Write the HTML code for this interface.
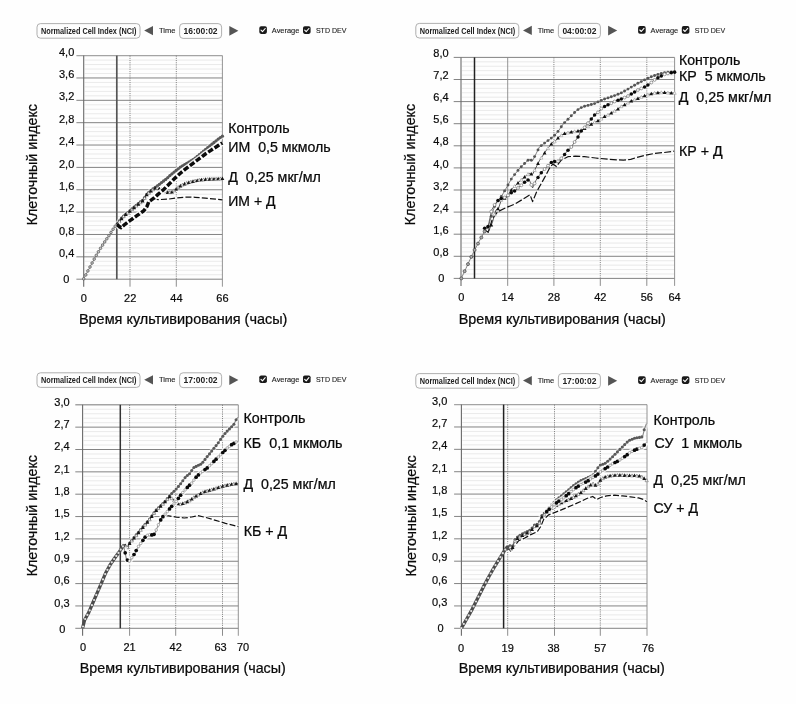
<!DOCTYPE html>
<html><head><meta charset="utf-8"><title>Cell index charts</title>
<style>html,body{margin:0;padding:0;background:#fefefe;}body{width:796px;height:704px;overflow:hidden;}svg{display:block;will-change:transform;filter:grayscale(1) blur(0.3px);font-family:'Liberation Sans', sans-serif;}</style>
</head><body>
<svg width="796" height="704" viewBox="0 0 796 704">
<rect width="796" height="704" fill="#fefefe"/>
<!-- chart1 -->
<g transform="translate(0,0)">
<rect x="37" y="23.6" width="103" height="14.6" rx="3.5" fill="#fdfdfd" stroke="#a6a6a6" stroke-width="0.9"/>
<text x="88.7" y="33.9" font-size="8.5" font-weight="bold" text-anchor="middle" textLength="95.5" lengthAdjust="spacingAndGlyphs" fill="#222">Normalized Cell Index (NCI)</text>
<path d="M144.2 30.6 L153 26 L153 35.2 Z" fill="#555"/>
<text x="158.9" y="33.2" font-size="7.8" textLength="16.6" lengthAdjust="spacingAndGlyphs" fill="#222" stroke="#222" stroke-width="0.12">Time</text>
<rect x="179.6" y="23.6" width="42" height="14.8" rx="3.5" fill="#fdfdfd" stroke="#a6a6a6" stroke-width="0.9"/>
<text x="200.6" y="34" font-size="8.4" font-weight="bold" text-anchor="middle" textLength="34" lengthAdjust="spacingAndGlyphs" fill="#222">16:00:02</text>
<path d="M238.4 30.8 L229.3 26 L229.3 35.7 Z" fill="#555"/>
<rect x="259.3" y="26.3" width="7.6" height="7.6" rx="1.8" fill="#1a1a1a"/>
<path d="M261.0 30.2 L262.5 31.700000000000003 L265.2 28.5" fill="none" stroke="#fff" stroke-width="1.1" stroke-linecap="round" stroke-linejoin="round"/>
<rect x="303.0" y="26.3" width="7.6" height="7.6" rx="1.8" fill="#1a1a1a"/>
<path d="M304.7 30.2 L306.2 31.700000000000003 L308.9 28.5" fill="none" stroke="#fff" stroke-width="1.1" stroke-linecap="round" stroke-linejoin="round"/>
<text x="271.8" y="33.2" font-size="7.8" textLength="27.6" lengthAdjust="spacingAndGlyphs" fill="#222" stroke="#222" stroke-width="0.12">Average</text>
<text x="315.9" y="33.2" font-size="7.6" textLength="30.5" lengthAdjust="spacingAndGlyphs" fill="#222" stroke="#222" stroke-width="0.12">STD DEV</text>
</g>
<line x1="84.70" y1="60.07" x2="222.40" y2="60.07" stroke="#e3e3e3" stroke-width="0.75"/>
<line x1="84.70" y1="64.54" x2="222.40" y2="64.54" stroke="#e3e3e3" stroke-width="0.75"/>
<line x1="84.70" y1="69.02" x2="222.40" y2="69.02" stroke="#e3e3e3" stroke-width="0.75"/>
<line x1="84.70" y1="73.49" x2="222.40" y2="73.49" stroke="#e3e3e3" stroke-width="0.75"/>
<line x1="84.70" y1="82.43" x2="222.40" y2="82.43" stroke="#e3e3e3" stroke-width="0.75"/>
<line x1="84.70" y1="86.90" x2="222.40" y2="86.90" stroke="#e3e3e3" stroke-width="0.75"/>
<line x1="84.70" y1="91.38" x2="222.40" y2="91.38" stroke="#e3e3e3" stroke-width="0.75"/>
<line x1="84.70" y1="95.85" x2="222.40" y2="95.85" stroke="#e3e3e3" stroke-width="0.75"/>
<line x1="84.70" y1="104.79" x2="222.40" y2="104.79" stroke="#e3e3e3" stroke-width="0.75"/>
<line x1="84.70" y1="109.26" x2="222.40" y2="109.26" stroke="#e3e3e3" stroke-width="0.75"/>
<line x1="84.70" y1="113.74" x2="222.40" y2="113.74" stroke="#e3e3e3" stroke-width="0.75"/>
<line x1="84.70" y1="118.21" x2="222.40" y2="118.21" stroke="#e3e3e3" stroke-width="0.75"/>
<line x1="84.70" y1="127.15" x2="222.40" y2="127.15" stroke="#e3e3e3" stroke-width="0.75"/>
<line x1="84.70" y1="131.62" x2="222.40" y2="131.62" stroke="#e3e3e3" stroke-width="0.75"/>
<line x1="84.70" y1="136.10" x2="222.40" y2="136.10" stroke="#e3e3e3" stroke-width="0.75"/>
<line x1="84.70" y1="140.57" x2="222.40" y2="140.57" stroke="#e3e3e3" stroke-width="0.75"/>
<line x1="84.70" y1="149.51" x2="222.40" y2="149.51" stroke="#e3e3e3" stroke-width="0.75"/>
<line x1="84.70" y1="153.98" x2="222.40" y2="153.98" stroke="#e3e3e3" stroke-width="0.75"/>
<line x1="84.70" y1="158.46" x2="222.40" y2="158.46" stroke="#e3e3e3" stroke-width="0.75"/>
<line x1="84.70" y1="162.93" x2="222.40" y2="162.93" stroke="#e3e3e3" stroke-width="0.75"/>
<line x1="84.70" y1="171.87" x2="222.40" y2="171.87" stroke="#e3e3e3" stroke-width="0.75"/>
<line x1="84.70" y1="176.34" x2="222.40" y2="176.34" stroke="#e3e3e3" stroke-width="0.75"/>
<line x1="84.70" y1="180.82" x2="222.40" y2="180.82" stroke="#e3e3e3" stroke-width="0.75"/>
<line x1="84.70" y1="185.29" x2="222.40" y2="185.29" stroke="#e3e3e3" stroke-width="0.75"/>
<line x1="84.70" y1="194.23" x2="222.40" y2="194.23" stroke="#e3e3e3" stroke-width="0.75"/>
<line x1="84.70" y1="198.70" x2="222.40" y2="198.70" stroke="#e3e3e3" stroke-width="0.75"/>
<line x1="84.70" y1="203.18" x2="222.40" y2="203.18" stroke="#e3e3e3" stroke-width="0.75"/>
<line x1="84.70" y1="207.65" x2="222.40" y2="207.65" stroke="#e3e3e3" stroke-width="0.75"/>
<line x1="84.70" y1="216.59" x2="222.40" y2="216.59" stroke="#e3e3e3" stroke-width="0.75"/>
<line x1="84.70" y1="221.06" x2="222.40" y2="221.06" stroke="#e3e3e3" stroke-width="0.75"/>
<line x1="84.70" y1="225.54" x2="222.40" y2="225.54" stroke="#e3e3e3" stroke-width="0.75"/>
<line x1="84.70" y1="230.01" x2="222.40" y2="230.01" stroke="#e3e3e3" stroke-width="0.75"/>
<line x1="84.70" y1="238.95" x2="222.40" y2="238.95" stroke="#e3e3e3" stroke-width="0.75"/>
<line x1="84.70" y1="243.42" x2="222.40" y2="243.42" stroke="#e3e3e3" stroke-width="0.75"/>
<line x1="84.70" y1="247.90" x2="222.40" y2="247.90" stroke="#e3e3e3" stroke-width="0.75"/>
<line x1="84.70" y1="252.37" x2="222.40" y2="252.37" stroke="#e3e3e3" stroke-width="0.75"/>
<line x1="84.70" y1="261.31" x2="222.40" y2="261.31" stroke="#e3e3e3" stroke-width="0.75"/>
<line x1="84.70" y1="265.78" x2="222.40" y2="265.78" stroke="#e3e3e3" stroke-width="0.75"/>
<line x1="84.70" y1="270.26" x2="222.40" y2="270.26" stroke="#e3e3e3" stroke-width="0.75"/>
<line x1="84.70" y1="274.73" x2="222.40" y2="274.73" stroke="#e3e3e3" stroke-width="0.75"/>
<line x1="76.40" y1="55.60" x2="222.40" y2="55.60" stroke="#a4a4a4" stroke-width="1.4"/>
<line x1="76.40" y1="77.96" x2="222.40" y2="77.96" stroke="#7c7c7c" stroke-width="0.95"/>
<line x1="76.40" y1="100.32" x2="222.40" y2="100.32" stroke="#7c7c7c" stroke-width="0.95"/>
<line x1="76.40" y1="122.68" x2="222.40" y2="122.68" stroke="#7c7c7c" stroke-width="0.95"/>
<line x1="76.40" y1="145.04" x2="222.40" y2="145.04" stroke="#7c7c7c" stroke-width="0.95"/>
<line x1="76.40" y1="167.40" x2="222.40" y2="167.40" stroke="#7c7c7c" stroke-width="0.95"/>
<line x1="76.40" y1="189.76" x2="222.40" y2="189.76" stroke="#7c7c7c" stroke-width="0.95"/>
<line x1="76.40" y1="212.12" x2="222.40" y2="212.12" stroke="#7c7c7c" stroke-width="0.95"/>
<line x1="76.40" y1="234.48" x2="222.40" y2="234.48" stroke="#7c7c7c" stroke-width="0.95"/>
<line x1="76.40" y1="256.84" x2="222.40" y2="256.84" stroke="#7c7c7c" stroke-width="0.95"/>
<line x1="76.40" y1="279.20" x2="222.40" y2="279.20" stroke="#7c7c7c" stroke-width="0.95"/>
<line x1="130.00" y1="55.60" x2="130.00" y2="279.20" stroke="#777" stroke-width="0.9" stroke-dasharray="1.1 1.1"/>
<line x1="130.00" y1="279.20" x2="130.00" y2="286.70" stroke="#808080" stroke-width="0.9"/>
<line x1="176.30" y1="55.60" x2="176.30" y2="279.20" stroke="#777" stroke-width="0.9" stroke-dasharray="1.1 1.1"/>
<line x1="176.30" y1="279.20" x2="176.30" y2="286.70" stroke="#808080" stroke-width="0.9"/>
<line x1="83.70" y1="55.60" x2="83.70" y2="286.70" stroke="#6a6a6a" stroke-width="1.1"/>
<line x1="222.40" y1="55.60" x2="222.40" y2="286.70" stroke="#888" stroke-width="0.9"/>
<line x1="116.80" y1="55.60" x2="116.80" y2="279.20" stroke="#555" stroke-width="1.7"/>
<path d="M117.0 224.6 L119.3 227.2 L121.2 228.3 L125.0 225.0 L129.9 221.5 L136.9 216.5 L143.8 211.6 L146.8 207.6 L148.8 202.6 L153.8 199.2 L158.7 199.6 L167.7 199.2 L176.6 198.0 L185.0 197.2 L190.0 197.0 L195.2 197.3 L205.4 198.2 L215.7 199.1 L222.4 199.9" fill="none" stroke="#fff" stroke-opacity="0.7" stroke-width="3.2" stroke-linejoin="round"/>
<path d="M117.0 224.6 L119.3 227.2 L121.2 228.3 L125.0 225.0 L129.9 221.5 L136.9 216.5 L143.8 211.6 L146.8 207.6 L148.8 202.6 L153.8 199.2 L158.7 199.6 L167.7 199.2 L176.6 198.0 L185.0 197.2 L190.0 197.0 L195.2 197.3 L205.4 198.2 L215.7 199.1 L222.4 199.9" fill="none" stroke="#111" stroke-width="1.25" stroke-dasharray="6 2.2" stroke-linejoin="round"/>
<path d="M117.0 224.2 L121.9 217.7 L129.9 210.8 L136.9 204.8 L143.8 199.4 L145.8 195.2 L151.8 189.9 L155.8 187.0 L161.0 183.0 L166.4 178.8 L171.0 174.6 L176.2 170.4 L180.5 167.0 L185.0 164.3 L190.0 161.5 L195.2 158.1 L200.3 153.8 L205.4 149.6 L210.5 145.4 L215.7 141.1 L219.0 138.5 L222.4 136.2" fill="none" stroke="#fff" stroke-opacity="0.6" stroke-width="5.0" stroke-linejoin="round"/>
<path d="M117.0 224.2 L121.9 217.7 L129.9 210.8 L136.9 204.8 L143.8 199.4 L145.8 195.2 L151.8 189.9 L155.8 187.0 L161.0 183.0 L166.4 178.8 L171.0 174.6 L176.2 170.4 L180.5 167.0 L185.0 164.3 L190.0 161.5 L195.2 158.1 L200.3 153.8 L205.4 149.6 L210.5 145.4 L215.7 141.1 L219.0 138.5 L222.4 136.2" fill="none" stroke="#7c7c7c" stroke-width="1.6" stroke-linejoin="round"/>
<circle cx="117.3" cy="223.8" r="1.65" fill="#5a5a5a" stroke="none" stroke-width="0"/>
<circle cx="119.4" cy="221.0" r="1.65" fill="#5a5a5a" stroke="none" stroke-width="0"/>
<circle cx="121.5" cy="218.2" r="1.65" fill="#5a5a5a" stroke="none" stroke-width="0"/>
<circle cx="123.6" cy="216.2" r="1.65" fill="#5a5a5a" stroke="none" stroke-width="0"/>
<circle cx="125.7" cy="214.4" r="1.65" fill="#5a5a5a" stroke="none" stroke-width="0"/>
<circle cx="127.8" cy="212.6" r="1.65" fill="#5a5a5a" stroke="none" stroke-width="0"/>
<circle cx="129.9" cy="210.8" r="1.65" fill="#5a5a5a" stroke="none" stroke-width="0"/>
<circle cx="132.0" cy="209.0" r="1.65" fill="#5a5a5a" stroke="none" stroke-width="0"/>
<circle cx="134.1" cy="207.2" r="1.65" fill="#5a5a5a" stroke="none" stroke-width="0"/>
<circle cx="136.2" cy="205.4" r="1.65" fill="#5a5a5a" stroke="none" stroke-width="0"/>
<circle cx="138.3" cy="203.7" r="1.65" fill="#5a5a5a" stroke="none" stroke-width="0"/>
<circle cx="140.4" cy="202.0" r="1.65" fill="#5a5a5a" stroke="none" stroke-width="0"/>
<circle cx="142.5" cy="200.4" r="1.65" fill="#5a5a5a" stroke="none" stroke-width="0"/>
<circle cx="144.6" cy="197.6" r="1.65" fill="#5a5a5a" stroke="none" stroke-width="0"/>
<circle cx="146.7" cy="194.4" r="1.65" fill="#5a5a5a" stroke="none" stroke-width="0"/>
<circle cx="148.8" cy="192.5" r="1.65" fill="#5a5a5a" stroke="none" stroke-width="0"/>
<circle cx="150.9" cy="190.7" r="1.65" fill="#5a5a5a" stroke="none" stroke-width="0"/>
<circle cx="153.0" cy="189.0" r="1.65" fill="#5a5a5a" stroke="none" stroke-width="0"/>
<circle cx="155.2" cy="187.5" r="1.65" fill="#5a5a5a" stroke="none" stroke-width="0"/>
<circle cx="157.3" cy="185.9" r="1.65" fill="#5a5a5a" stroke="none" stroke-width="0"/>
<circle cx="159.4" cy="184.3" r="1.65" fill="#5a5a5a" stroke="none" stroke-width="0"/>
<circle cx="161.5" cy="182.6" r="1.65" fill="#5a5a5a" stroke="none" stroke-width="0"/>
<circle cx="163.6" cy="181.0" r="1.65" fill="#5a5a5a" stroke="none" stroke-width="0"/>
<circle cx="165.7" cy="179.4" r="1.65" fill="#5a5a5a" stroke="none" stroke-width="0"/>
<circle cx="167.8" cy="177.6" r="1.65" fill="#5a5a5a" stroke="none" stroke-width="0"/>
<circle cx="169.9" cy="175.6" r="1.65" fill="#5a5a5a" stroke="none" stroke-width="0"/>
<circle cx="172.0" cy="173.8" r="1.65" fill="#5a5a5a" stroke="none" stroke-width="0"/>
<circle cx="174.1" cy="172.1" r="1.65" fill="#5a5a5a" stroke="none" stroke-width="0"/>
<circle cx="176.2" cy="170.4" r="1.65" fill="#5a5a5a" stroke="none" stroke-width="0"/>
<circle cx="178.3" cy="168.8" r="1.65" fill="#5a5a5a" stroke="none" stroke-width="0"/>
<circle cx="180.4" cy="167.1" r="1.65" fill="#5a5a5a" stroke="none" stroke-width="0"/>
<circle cx="182.5" cy="165.8" r="1.65" fill="#5a5a5a" stroke="none" stroke-width="0"/>
<circle cx="184.6" cy="164.6" r="1.65" fill="#5a5a5a" stroke="none" stroke-width="0"/>
<circle cx="186.7" cy="163.4" r="1.65" fill="#5a5a5a" stroke="none" stroke-width="0"/>
<circle cx="188.8" cy="162.2" r="1.65" fill="#5a5a5a" stroke="none" stroke-width="0"/>
<circle cx="190.9" cy="160.9" r="1.65" fill="#5a5a5a" stroke="none" stroke-width="0"/>
<circle cx="193.0" cy="159.6" r="1.65" fill="#5a5a5a" stroke="none" stroke-width="0"/>
<circle cx="195.1" cy="158.2" r="1.65" fill="#5a5a5a" stroke="none" stroke-width="0"/>
<circle cx="197.2" cy="156.4" r="1.65" fill="#5a5a5a" stroke="none" stroke-width="0"/>
<circle cx="199.3" cy="154.7" r="1.65" fill="#5a5a5a" stroke="none" stroke-width="0"/>
<circle cx="201.4" cy="152.9" r="1.65" fill="#5a5a5a" stroke="none" stroke-width="0"/>
<circle cx="203.5" cy="151.2" r="1.65" fill="#5a5a5a" stroke="none" stroke-width="0"/>
<circle cx="205.6" cy="149.4" r="1.65" fill="#5a5a5a" stroke="none" stroke-width="0"/>
<circle cx="207.7" cy="147.7" r="1.65" fill="#5a5a5a" stroke="none" stroke-width="0"/>
<circle cx="209.8" cy="146.0" r="1.65" fill="#5a5a5a" stroke="none" stroke-width="0"/>
<circle cx="211.9" cy="144.2" r="1.65" fill="#5a5a5a" stroke="none" stroke-width="0"/>
<circle cx="214.0" cy="142.5" r="1.65" fill="#5a5a5a" stroke="none" stroke-width="0"/>
<circle cx="216.1" cy="140.8" r="1.65" fill="#5a5a5a" stroke="none" stroke-width="0"/>
<circle cx="218.2" cy="139.1" r="1.65" fill="#5a5a5a" stroke="none" stroke-width="0"/>
<circle cx="220.3" cy="137.6" r="1.65" fill="#5a5a5a" stroke="none" stroke-width="0"/>
<circle cx="222.4" cy="136.2" r="1.65" fill="#5a5a5a" stroke="none" stroke-width="0"/>
<path d="M117.0 224.2 L119.5 221.5 L121.9 218.2 L125.5 214.5 L129.9 211.3 L136.9 205.3 L143.8 199.9 L145.8 195.6 L151.8 190.3 L155.8 187.9 L161.7 189.4 L167.7 192.4 L171.7 192.2 L175.6 189.4 L179.6 186.2 L185.0 183.7 L190.0 182.0 L195.2 180.8 L200.0 179.9 L205.4 179.4 L210.0 179.1 L215.7 178.9 L222.4 178.6" fill="none" stroke="#444" stroke-width="0.8" stroke-linejoin="round"/>
<path d="M117.3 221.8 L119.3 225.4 L115.4 225.4 Z" fill="#161616" stroke="none" stroke-width="0"/>
<path d="M119.4 219.9 L121.0 222.9 L117.8 222.9 Z" fill="#fff" stroke="#666" stroke-width="0.6"/>
<path d="M121.5 216.7 L123.5 220.3 L119.6 220.3 Z" fill="#161616" stroke="none" stroke-width="0"/>
<path d="M123.6 214.7 L125.2 217.7 L122.0 217.7 Z" fill="#fff" stroke="#666" stroke-width="0.6"/>
<path d="M125.7 212.3 L127.7 215.9 L123.8 215.9 Z" fill="#161616" stroke="none" stroke-width="0"/>
<path d="M127.8 211.1 L129.4 214.1 L126.2 214.1 Z" fill="#fff" stroke="#666" stroke-width="0.6"/>
<path d="M129.9 209.2 L131.9 212.8 L128.0 212.8 Z" fill="#161616" stroke="none" stroke-width="0"/>
<path d="M132.0 207.8 L133.6 210.7 L130.4 210.7 Z" fill="#fff" stroke="#666" stroke-width="0.6"/>
<path d="M134.1 205.6 L136.1 209.2 L132.2 209.2 Z" fill="#161616" stroke="none" stroke-width="0"/>
<path d="M136.2 204.2 L137.9 207.1 L134.6 207.1 Z" fill="#fff" stroke="#666" stroke-width="0.6"/>
<path d="M138.3 202.1 L140.3 205.7 L136.4 205.7 Z" fill="#161616" stroke="none" stroke-width="0"/>
<path d="M140.4 200.8 L142.1 203.8 L138.8 203.8 Z" fill="#fff" stroke="#666" stroke-width="0.6"/>
<path d="M142.5 198.8 L144.5 202.4 L140.6 202.4 Z" fill="#161616" stroke="none" stroke-width="0"/>
<path d="M144.6 196.4 L146.3 199.4 L143.0 199.4 Z" fill="#fff" stroke="#666" stroke-width="0.6"/>
<path d="M146.7 192.7 L148.7 196.3 L144.8 196.3 Z" fill="#161616" stroke="none" stroke-width="0"/>
<path d="M148.8 191.2 L150.5 194.2 L147.2 194.2 Z" fill="#fff" stroke="#666" stroke-width="0.6"/>
<path d="M150.9 189.0 L152.9 192.6 L149.0 192.6 Z" fill="#161616" stroke="none" stroke-width="0"/>
<path d="M153.0 187.9 L154.7 190.8 L151.4 190.8 Z" fill="#fff" stroke="#666" stroke-width="0.6"/>
<path d="M155.2 186.2 L157.1 189.8 L153.2 189.8 Z" fill="#161616" stroke="none" stroke-width="0"/>
<path d="M157.3 186.6 L158.9 189.5 L155.6 189.5 Z" fill="#fff" stroke="#666" stroke-width="0.6"/>
<path d="M159.4 186.8 L161.3 190.3 L157.4 190.3 Z" fill="#161616" stroke="none" stroke-width="0"/>
<path d="M161.5 187.6 L163.1 190.6 L159.8 190.6 Z" fill="#fff" stroke="#666" stroke-width="0.6"/>
<path d="M163.6 188.3 L165.5 191.9 L161.6 191.9 Z" fill="#161616" stroke="none" stroke-width="0"/>
<path d="M165.7 189.7 L167.3 192.7 L164.0 192.7 Z" fill="#fff" stroke="#666" stroke-width="0.6"/>
<path d="M167.8 190.3 L169.7 193.9 L165.8 193.9 Z" fill="#161616" stroke="none" stroke-width="0"/>
<path d="M169.9 190.6 L171.5 193.6 L168.2 193.6 Z" fill="#fff" stroke="#666" stroke-width="0.6"/>
<path d="M172.0 190.0 L173.9 193.5 L170.0 193.5 Z" fill="#161616" stroke="none" stroke-width="0"/>
<path d="M174.1 188.8 L175.7 191.8 L172.4 191.8 Z" fill="#fff" stroke="#666" stroke-width="0.6"/>
<path d="M176.2 186.9 L178.1 190.5 L174.2 190.5 Z" fill="#161616" stroke="none" stroke-width="0"/>
<path d="M178.3 185.6 L179.9 188.5 L176.7 188.5 Z" fill="#fff" stroke="#666" stroke-width="0.6"/>
<path d="M180.4 183.8 L182.3 187.4 L178.4 187.4 Z" fill="#161616" stroke="none" stroke-width="0"/>
<path d="M182.5 183.2 L184.1 186.1 L180.9 186.1 Z" fill="#fff" stroke="#666" stroke-width="0.6"/>
<path d="M184.6 181.8 L186.5 185.4 L182.6 185.4 Z" fill="#161616" stroke="none" stroke-width="0"/>
<path d="M186.7 181.4 L188.3 184.4 L185.1 184.4 Z" fill="#fff" stroke="#666" stroke-width="0.6"/>
<path d="M188.8 180.4 L190.7 184.0 L186.8 184.0 Z" fill="#161616" stroke="none" stroke-width="0"/>
<path d="M190.9 180.1 L192.5 183.1 L189.3 183.1 Z" fill="#fff" stroke="#666" stroke-width="0.6"/>
<path d="M193.0 179.3 L194.9 182.9 L191.0 182.9 Z" fill="#161616" stroke="none" stroke-width="0"/>
<path d="M195.1 179.1 L196.7 182.1 L193.5 182.1 Z" fill="#fff" stroke="#666" stroke-width="0.6"/>
<path d="M197.2 178.4 L199.1 182.0 L195.2 182.0 Z" fill="#161616" stroke="none" stroke-width="0"/>
<path d="M199.3 178.3 L200.9 181.3 L197.7 181.3 Z" fill="#fff" stroke="#666" stroke-width="0.6"/>
<path d="M201.4 177.7 L203.3 181.3 L199.4 181.3 Z" fill="#161616" stroke="none" stroke-width="0"/>
<path d="M203.5 177.9 L205.1 180.9 L201.9 180.9 Z" fill="#fff" stroke="#666" stroke-width="0.6"/>
<path d="M205.6 177.3 L207.5 180.9 L203.6 180.9 Z" fill="#161616" stroke="none" stroke-width="0"/>
<path d="M207.7 177.6 L209.3 180.5 L206.1 180.5 Z" fill="#fff" stroke="#666" stroke-width="0.6"/>
<path d="M209.8 177.1 L211.7 180.7 L207.8 180.7 Z" fill="#161616" stroke="none" stroke-width="0"/>
<path d="M211.9 177.3 L213.5 180.3 L210.3 180.3 Z" fill="#fff" stroke="#666" stroke-width="0.6"/>
<path d="M214.0 176.9 L215.9 180.5 L212.0 180.5 Z" fill="#161616" stroke="none" stroke-width="0"/>
<path d="M216.1 177.2 L217.7 180.2 L214.5 180.2 Z" fill="#fff" stroke="#666" stroke-width="0.6"/>
<path d="M218.2 176.7 L220.1 180.3 L216.2 180.3 Z" fill="#161616" stroke="none" stroke-width="0"/>
<path d="M220.3 177.0 L221.9 180.0 L218.7 180.0 Z" fill="#fff" stroke="#666" stroke-width="0.6"/>
<path d="M222.4 176.6 L224.3 180.1 L220.5 180.1 Z" fill="#161616" stroke="none" stroke-width="0"/>
<path d="M117.0 224.2 L119.3 226.6 L121.2 227.6 L125.0 224.3 L129.9 220.7 L136.9 215.7 L143.8 210.8 L146.8 206.8 L148.8 201.8 L153.8 198.2 L157.7 194.6 L163.7 189.5 L169.7 183.5 L175.6 177.6 L180.6 173.0 L185.0 169.4 L190.0 165.6 L195.2 161.7 L200.3 157.9 L205.4 154.0 L210.5 150.6 L215.7 147.2 L219.0 145.0 L222.4 142.9" fill="none" stroke="#fff" stroke-opacity="0.85" stroke-width="6.0" stroke-linejoin="round"/>
<path d="M117.0 224.2 L119.3 226.6 L121.2 227.6 L125.0 224.3 L129.9 220.7 L136.9 215.7 L143.8 210.8 L146.8 206.8 L148.8 201.8 L153.8 198.2 L157.7 194.6 L163.7 189.5 L169.7 183.5 L175.6 177.6 L180.6 173.0 L185.0 169.4 L190.0 165.6 L195.2 161.7 L200.3 157.9 L205.4 154.0 L210.5 150.6 L215.7 147.2 L219.0 145.0 L222.4 142.9" fill="none" stroke="#0c0c0c" stroke-width="3.5" stroke-dasharray="5.6 2.0" stroke-linejoin="round"/>
<path d="M83.6 279.0 L87.4 271.9 L91.9 263.4 L96.5 254.9 L101.0 247.5 L105.5 240.7 L109.0 235.6 L112.9 229.5 L116.9 223.9" fill="none" stroke="#777" stroke-width="0.9" stroke-linejoin="round"/>
<circle cx="83.7" cy="278.8" r="1.3" fill="#c8c8c8" stroke="#5a5a5a" stroke-width="0.75"/>
<circle cx="85.8" cy="274.9" r="1.3" fill="#c8c8c8" stroke="#5a5a5a" stroke-width="0.75"/>
<circle cx="87.9" cy="270.9" r="1.3" fill="#c8c8c8" stroke="#5a5a5a" stroke-width="0.75"/>
<circle cx="90.0" cy="267.0" r="1.3" fill="#c8c8c8" stroke="#5a5a5a" stroke-width="0.75"/>
<circle cx="92.1" cy="263.0" r="1.3" fill="#c8c8c8" stroke="#5a5a5a" stroke-width="0.75"/>
<circle cx="94.2" cy="259.1" r="1.3" fill="#c8c8c8" stroke="#5a5a5a" stroke-width="0.75"/>
<circle cx="96.3" cy="255.3" r="1.3" fill="#c8c8c8" stroke="#5a5a5a" stroke-width="0.75"/>
<circle cx="98.4" cy="251.8" r="1.3" fill="#c8c8c8" stroke="#5a5a5a" stroke-width="0.75"/>
<circle cx="100.5" cy="248.3" r="1.3" fill="#c8c8c8" stroke="#5a5a5a" stroke-width="0.75"/>
<circle cx="102.6" cy="245.1" r="1.3" fill="#c8c8c8" stroke="#5a5a5a" stroke-width="0.75"/>
<circle cx="104.7" cy="241.9" r="1.3" fill="#c8c8c8" stroke="#5a5a5a" stroke-width="0.75"/>
<circle cx="106.8" cy="238.8" r="1.3" fill="#c8c8c8" stroke="#5a5a5a" stroke-width="0.75"/>
<circle cx="108.9" cy="235.7" r="1.3" fill="#c8c8c8" stroke="#5a5a5a" stroke-width="0.75"/>
<circle cx="111.0" cy="232.4" r="1.3" fill="#c8c8c8" stroke="#5a5a5a" stroke-width="0.75"/>
<circle cx="113.1" cy="229.2" r="1.3" fill="#c8c8c8" stroke="#5a5a5a" stroke-width="0.75"/>
<circle cx="115.2" cy="226.2" r="1.3" fill="#c8c8c8" stroke="#5a5a5a" stroke-width="0.75"/>
<text x="74.30" y="55.70" font-size="11" text-anchor="end" fill="#0a0a0a" stroke="#0a0a0a" stroke-width="0.2">4,0</text>
<text x="74.30" y="78.06" font-size="11" text-anchor="end" fill="#0a0a0a" stroke="#0a0a0a" stroke-width="0.2">3,6</text>
<text x="74.30" y="100.42" font-size="11" text-anchor="end" fill="#0a0a0a" stroke="#0a0a0a" stroke-width="0.2">3,2</text>
<text x="74.30" y="122.78" font-size="11" text-anchor="end" fill="#0a0a0a" stroke="#0a0a0a" stroke-width="0.2">2,8</text>
<text x="74.30" y="145.14" font-size="11" text-anchor="end" fill="#0a0a0a" stroke="#0a0a0a" stroke-width="0.2">2,4</text>
<text x="74.30" y="167.50" font-size="11" text-anchor="end" fill="#0a0a0a" stroke="#0a0a0a" stroke-width="0.2">2,0</text>
<text x="74.30" y="189.86" font-size="11" text-anchor="end" fill="#0a0a0a" stroke="#0a0a0a" stroke-width="0.2">1,6</text>
<text x="74.30" y="212.22" font-size="11" text-anchor="end" fill="#0a0a0a" stroke="#0a0a0a" stroke-width="0.2">1,2</text>
<text x="74.30" y="234.58" font-size="11" text-anchor="end" fill="#0a0a0a" stroke="#0a0a0a" stroke-width="0.2">0,8</text>
<text x="74.30" y="256.94" font-size="11" text-anchor="end" fill="#0a0a0a" stroke="#0a0a0a" stroke-width="0.2">0,4</text>
<text x="66.30" y="282.80" font-size="11" text-anchor="middle" fill="#0a0a0a" stroke="#0a0a0a" stroke-width="0.2">0</text>
<text x="83.90" y="301.80" font-size="11" text-anchor="middle" fill="#0a0a0a" stroke="#0a0a0a" stroke-width="0.2">0</text>
<text x="130.20" y="301.80" font-size="11" text-anchor="middle" fill="#0a0a0a" stroke="#0a0a0a" stroke-width="0.2">22</text>
<text x="176.40" y="301.80" font-size="11" text-anchor="middle" fill="#0a0a0a" stroke="#0a0a0a" stroke-width="0.2">44</text>
<text x="222.40" y="301.80" font-size="11" text-anchor="middle" fill="#0a0a0a" stroke="#0a0a0a" stroke-width="0.2">66</text>
<text x="183.20" y="323.60" font-size="14.3" text-anchor="middle" textLength="208.5" lengthAdjust="spacingAndGlyphs" fill="#0a0a0a" stroke="#0a0a0a" stroke-width="0.24">Время культивирования (часы)</text>
<text transform="translate(37.00,164.70) rotate(-90)" font-size="14.0" text-anchor="middle" textLength="121.3" lengthAdjust="spacingAndGlyphs" fill="#0a0a0a" stroke="#0a0a0a" stroke-width="0.24">Клеточный индекс</text>
<text x="228.30" y="133.00" font-size="13.8" textLength="61.2" lengthAdjust="spacingAndGlyphs" fill="#0a0a0a" stroke="#0a0a0a" stroke-width="0.24" xml:space="preserve">Контроль</text>
<text x="228.30" y="152.20" font-size="13.8" textLength="102.4" lengthAdjust="spacingAndGlyphs" fill="#0a0a0a" stroke="#0a0a0a" stroke-width="0.24" xml:space="preserve">ИМ  0,5 мкмоль</text>
<text x="228.30" y="182.00" font-size="13.8" textLength="92.6" lengthAdjust="spacingAndGlyphs" fill="#0a0a0a" stroke="#0a0a0a" stroke-width="0.24" xml:space="preserve">Д  0,25 мкг/мл</text>
<text x="228.30" y="206.10" font-size="13.8" textLength="47.2" lengthAdjust="spacingAndGlyphs" fill="#0a0a0a" stroke="#0a0a0a" stroke-width="0.24" xml:space="preserve">ИМ + Д</text>
<!-- chart2 -->
<g transform="translate(378.8,-0.2)">
<rect x="37" y="23.6" width="103" height="14.6" rx="3.5" fill="#fdfdfd" stroke="#a6a6a6" stroke-width="0.9"/>
<text x="88.7" y="33.9" font-size="8.5" font-weight="bold" text-anchor="middle" textLength="95.5" lengthAdjust="spacingAndGlyphs" fill="#222">Normalized Cell Index (NCI)</text>
<path d="M144.2 30.6 L153 26 L153 35.2 Z" fill="#555"/>
<text x="158.9" y="33.2" font-size="7.8" textLength="16.6" lengthAdjust="spacingAndGlyphs" fill="#222" stroke="#222" stroke-width="0.12">Time</text>
<rect x="179.6" y="23.6" width="42" height="14.8" rx="3.5" fill="#fdfdfd" stroke="#a6a6a6" stroke-width="0.9"/>
<text x="200.6" y="34" font-size="8.4" font-weight="bold" text-anchor="middle" textLength="34" lengthAdjust="spacingAndGlyphs" fill="#222">04:00:02</text>
<path d="M238.4 30.8 L229.3 26 L229.3 35.7 Z" fill="#555"/>
<rect x="259.3" y="26.3" width="7.6" height="7.6" rx="1.8" fill="#1a1a1a"/>
<path d="M261.0 30.2 L262.5 31.700000000000003 L265.2 28.5" fill="none" stroke="#fff" stroke-width="1.1" stroke-linecap="round" stroke-linejoin="round"/>
<rect x="303.0" y="26.3" width="7.6" height="7.6" rx="1.8" fill="#1a1a1a"/>
<path d="M304.7 30.2 L306.2 31.700000000000003 L308.9 28.5" fill="none" stroke="#fff" stroke-width="1.1" stroke-linecap="round" stroke-linejoin="round"/>
<text x="271.8" y="33.2" font-size="7.8" textLength="27.6" lengthAdjust="spacingAndGlyphs" fill="#222" stroke="#222" stroke-width="0.12">Average</text>
<text x="315.9" y="33.2" font-size="7.6" textLength="30.5" lengthAdjust="spacingAndGlyphs" fill="#222" stroke="#222" stroke-width="0.12">STD DEV</text>
</g>
<line x1="462.00" y1="61.82" x2="674.60" y2="61.82" stroke="#e3e3e3" stroke-width="0.75"/>
<line x1="462.00" y1="66.24" x2="674.60" y2="66.24" stroke="#e3e3e3" stroke-width="0.75"/>
<line x1="462.00" y1="70.66" x2="674.60" y2="70.66" stroke="#e3e3e3" stroke-width="0.75"/>
<line x1="462.00" y1="75.08" x2="674.60" y2="75.08" stroke="#e3e3e3" stroke-width="0.75"/>
<line x1="462.00" y1="83.92" x2="674.60" y2="83.92" stroke="#e3e3e3" stroke-width="0.75"/>
<line x1="462.00" y1="88.34" x2="674.60" y2="88.34" stroke="#e3e3e3" stroke-width="0.75"/>
<line x1="462.00" y1="92.76" x2="674.60" y2="92.76" stroke="#e3e3e3" stroke-width="0.75"/>
<line x1="462.00" y1="97.18" x2="674.60" y2="97.18" stroke="#e3e3e3" stroke-width="0.75"/>
<line x1="462.00" y1="106.02" x2="674.60" y2="106.02" stroke="#e3e3e3" stroke-width="0.75"/>
<line x1="462.00" y1="110.44" x2="674.60" y2="110.44" stroke="#e3e3e3" stroke-width="0.75"/>
<line x1="462.00" y1="114.86" x2="674.60" y2="114.86" stroke="#e3e3e3" stroke-width="0.75"/>
<line x1="462.00" y1="119.28" x2="674.60" y2="119.28" stroke="#e3e3e3" stroke-width="0.75"/>
<line x1="462.00" y1="128.12" x2="674.60" y2="128.12" stroke="#e3e3e3" stroke-width="0.75"/>
<line x1="462.00" y1="132.54" x2="674.60" y2="132.54" stroke="#e3e3e3" stroke-width="0.75"/>
<line x1="462.00" y1="136.96" x2="674.60" y2="136.96" stroke="#e3e3e3" stroke-width="0.75"/>
<line x1="462.00" y1="141.38" x2="674.60" y2="141.38" stroke="#e3e3e3" stroke-width="0.75"/>
<line x1="462.00" y1="150.22" x2="674.60" y2="150.22" stroke="#e3e3e3" stroke-width="0.75"/>
<line x1="462.00" y1="154.64" x2="674.60" y2="154.64" stroke="#e3e3e3" stroke-width="0.75"/>
<line x1="462.00" y1="159.06" x2="674.60" y2="159.06" stroke="#e3e3e3" stroke-width="0.75"/>
<line x1="462.00" y1="163.48" x2="674.60" y2="163.48" stroke="#e3e3e3" stroke-width="0.75"/>
<line x1="462.00" y1="172.32" x2="674.60" y2="172.32" stroke="#e3e3e3" stroke-width="0.75"/>
<line x1="462.00" y1="176.74" x2="674.60" y2="176.74" stroke="#e3e3e3" stroke-width="0.75"/>
<line x1="462.00" y1="181.16" x2="674.60" y2="181.16" stroke="#e3e3e3" stroke-width="0.75"/>
<line x1="462.00" y1="185.58" x2="674.60" y2="185.58" stroke="#e3e3e3" stroke-width="0.75"/>
<line x1="462.00" y1="194.42" x2="674.60" y2="194.42" stroke="#e3e3e3" stroke-width="0.75"/>
<line x1="462.00" y1="198.84" x2="674.60" y2="198.84" stroke="#e3e3e3" stroke-width="0.75"/>
<line x1="462.00" y1="203.26" x2="674.60" y2="203.26" stroke="#e3e3e3" stroke-width="0.75"/>
<line x1="462.00" y1="207.68" x2="674.60" y2="207.68" stroke="#e3e3e3" stroke-width="0.75"/>
<line x1="462.00" y1="216.52" x2="674.60" y2="216.52" stroke="#e3e3e3" stroke-width="0.75"/>
<line x1="462.00" y1="220.94" x2="674.60" y2="220.94" stroke="#e3e3e3" stroke-width="0.75"/>
<line x1="462.00" y1="225.36" x2="674.60" y2="225.36" stroke="#e3e3e3" stroke-width="0.75"/>
<line x1="462.00" y1="229.78" x2="674.60" y2="229.78" stroke="#e3e3e3" stroke-width="0.75"/>
<line x1="462.00" y1="238.62" x2="674.60" y2="238.62" stroke="#e3e3e3" stroke-width="0.75"/>
<line x1="462.00" y1="243.04" x2="674.60" y2="243.04" stroke="#e3e3e3" stroke-width="0.75"/>
<line x1="462.00" y1="247.46" x2="674.60" y2="247.46" stroke="#e3e3e3" stroke-width="0.75"/>
<line x1="462.00" y1="251.88" x2="674.60" y2="251.88" stroke="#e3e3e3" stroke-width="0.75"/>
<line x1="462.00" y1="260.72" x2="674.60" y2="260.72" stroke="#e3e3e3" stroke-width="0.75"/>
<line x1="462.00" y1="265.14" x2="674.60" y2="265.14" stroke="#e3e3e3" stroke-width="0.75"/>
<line x1="462.00" y1="269.56" x2="674.60" y2="269.56" stroke="#e3e3e3" stroke-width="0.75"/>
<line x1="462.00" y1="273.98" x2="674.60" y2="273.98" stroke="#e3e3e3" stroke-width="0.75"/>
<line x1="453.70" y1="57.40" x2="674.60" y2="57.40" stroke="#7c7c7c" stroke-width="0.95"/>
<line x1="453.70" y1="79.50" x2="674.60" y2="79.50" stroke="#7c7c7c" stroke-width="0.95"/>
<line x1="453.70" y1="101.60" x2="674.60" y2="101.60" stroke="#7c7c7c" stroke-width="0.95"/>
<line x1="453.70" y1="123.70" x2="674.60" y2="123.70" stroke="#7c7c7c" stroke-width="0.95"/>
<line x1="453.70" y1="145.80" x2="674.60" y2="145.80" stroke="#7c7c7c" stroke-width="0.95"/>
<line x1="453.70" y1="167.90" x2="674.60" y2="167.90" stroke="#7c7c7c" stroke-width="0.95"/>
<line x1="453.70" y1="190.00" x2="674.60" y2="190.00" stroke="#7c7c7c" stroke-width="0.95"/>
<line x1="453.70" y1="212.10" x2="674.60" y2="212.10" stroke="#7c7c7c" stroke-width="0.95"/>
<line x1="453.70" y1="234.20" x2="674.60" y2="234.20" stroke="#7c7c7c" stroke-width="0.95"/>
<line x1="453.70" y1="256.30" x2="674.60" y2="256.30" stroke="#7c7c7c" stroke-width="0.95"/>
<line x1="453.70" y1="278.40" x2="674.60" y2="278.40" stroke="#7c7c7c" stroke-width="0.95"/>
<line x1="507.70" y1="57.40" x2="507.70" y2="278.40" stroke="#888" stroke-width="0.9"/>
<line x1="507.70" y1="278.40" x2="507.70" y2="285.90" stroke="#808080" stroke-width="0.9"/>
<line x1="553.90" y1="57.40" x2="553.90" y2="278.40" stroke="#777" stroke-width="0.9" stroke-dasharray="1.1 1.1"/>
<line x1="553.90" y1="278.40" x2="553.90" y2="285.90" stroke="#808080" stroke-width="0.9"/>
<line x1="600.30" y1="57.40" x2="600.30" y2="278.40" stroke="#777" stroke-width="0.9" stroke-dasharray="1.1 1.1"/>
<line x1="600.30" y1="278.40" x2="600.30" y2="285.90" stroke="#808080" stroke-width="0.9"/>
<line x1="646.80" y1="57.40" x2="646.80" y2="278.40" stroke="#777" stroke-width="0.9" stroke-dasharray="1.1 1.1"/>
<line x1="646.80" y1="278.40" x2="646.80" y2="285.90" stroke="#808080" stroke-width="0.9"/>
<line x1="461.00" y1="57.40" x2="461.00" y2="285.90" stroke="#6a6a6a" stroke-width="1.1"/>
<line x1="674.60" y1="57.40" x2="674.60" y2="285.90" stroke="#888" stroke-width="0.9"/>
<line x1="474.50" y1="57.40" x2="474.50" y2="278.40" stroke="#222" stroke-width="1.5"/>
<path d="M485.6 230.5 L488.2 232.3 L492.5 218.6 L497.6 211.8 L506.1 207.6 L514.7 204.1 L523.2 199.0 L530.0 194.8 L532.6 201.6 L536.8 191.4 L543.6 179.4 L550.4 166.6 L553.0 164.1 L556.4 166.6 L558.5 163.6 L561.5 159.9 L567.9 156.7 L575.3 156.2 L584.5 156.7 L595.6 158.0 L608.6 159.3 L623.3 160.2 L630.7 159.3 L638.1 157.1 L645.5 155.3 L654.7 153.4 L664.0 152.5 L674.1 151.2" fill="none" stroke="#111" stroke-width="1.2" stroke-dasharray="7 2.2" stroke-linejoin="round"/>
<path d="M488.2 232.3 L492.5 222.0 L495.9 210.1 L498.5 208.4 L501.9 198.2 L506.1 198.2 L512.1 188.8 L518.9 182.0 L525.7 176.0 L529.1 173.5 L532.6 174.3 L539.4 160.7 L546.2 150.5 L549.6 146.2 L553.0 141.9 L555.0 141.4 L558.7 137.2 L563.3 134.0 L567.9 132.7 L572.5 131.6 L577.2 131.3 L580.9 130.3 L584.5 128.5 L589.2 125.7 L593.8 122.6 L599.3 120.2 L603.9 116.9 L608.6 114.6 L613.2 111.9 L617.8 109.1 L621.5 106.3 L625.2 104.5 L629.8 101.7 L635.3 99.5 L639.9 97.6 L644.6 95.8 L649.2 94.3 L652.9 93.4 L656.6 92.8 L660.3 92.5 L664.0 92.5 L667.6 92.8 L674.7 93.0" fill="none" stroke="#333" stroke-width="0.8" stroke-linejoin="round"/>
<path d="M491.3 222.9 L493.2 226.4 L489.4 226.4 Z" fill="#111" stroke="none" stroke-width="0"/>
<path d="M494.6 212.8 L496.2 215.8 L493.0 215.8 Z" fill="#fff" stroke="#9a9a9a" stroke-width="0.6"/>
<path d="M498.0 206.8 L499.9 210.3 L496.1 210.3 Z" fill="#111" stroke="none" stroke-width="0"/>
<path d="M501.3 198.3 L502.9 201.3 L499.7 201.3 Z" fill="#fff" stroke="#9a9a9a" stroke-width="0.6"/>
<path d="M504.6 196.2 L506.5 199.7 L502.7 199.7 Z" fill="#111" stroke="none" stroke-width="0"/>
<path d="M508.0 193.6 L509.6 196.6 L506.3 196.6 Z" fill="#fff" stroke="#9a9a9a" stroke-width="0.6"/>
<path d="M511.3 188.1 L513.2 191.6 L509.4 191.6 Z" fill="#111" stroke="none" stroke-width="0"/>
<path d="M514.6 184.6 L516.2 187.5 L513.0 187.5 Z" fill="#fff" stroke="#9a9a9a" stroke-width="0.6"/>
<path d="M518.0 180.9 L519.9 184.4 L516.1 184.4 Z" fill="#111" stroke="none" stroke-width="0"/>
<path d="M521.3 178.2 L522.9 181.2 L519.7 181.2 Z" fill="#fff" stroke="#9a9a9a" stroke-width="0.6"/>
<path d="M524.6 174.9 L526.5 178.4 L522.7 178.4 Z" fill="#111" stroke="none" stroke-width="0"/>
<path d="M528.0 172.6 L529.6 175.6 L526.3 175.6 Z" fill="#fff" stroke="#9a9a9a" stroke-width="0.6"/>
<path d="M531.3 172.0 L533.2 175.5 L529.4 175.5 Z" fill="#111" stroke="none" stroke-width="0"/>
<path d="M534.6 168.5 L536.2 171.5 L533.0 171.5 Z" fill="#fff" stroke="#9a9a9a" stroke-width="0.6"/>
<path d="M538.0 161.6 L539.9 165.1 L536.1 165.1 Z" fill="#111" stroke="none" stroke-width="0"/>
<path d="M541.3 156.2 L542.9 159.1 L539.7 159.1 Z" fill="#fff" stroke="#9a9a9a" stroke-width="0.6"/>
<path d="M544.6 150.9 L546.5 154.4 L542.7 154.4 Z" fill="#111" stroke="none" stroke-width="0"/>
<path d="M548.0 146.6 L549.6 149.6 L546.3 149.6 Z" fill="#fff" stroke="#9a9a9a" stroke-width="0.6"/>
<path d="M551.3 142.1 L553.2 145.6 L549.4 145.6 Z" fill="#111" stroke="none" stroke-width="0"/>
<path d="M554.6 139.8 L556.2 142.8 L553.0 142.8 Z" fill="#fff" stroke="#9a9a9a" stroke-width="0.6"/>
<path d="M558.0 136.0 L559.9 139.5 L556.1 139.5 Z" fill="#111" stroke="none" stroke-width="0"/>
<path d="M561.3 133.7 L562.9 136.7 L559.7 136.7 Z" fill="#fff" stroke="#9a9a9a" stroke-width="0.6"/>
<path d="M564.6 131.6 L566.5 135.1 L562.7 135.1 Z" fill="#111" stroke="none" stroke-width="0"/>
<path d="M568.0 131.0 L569.6 134.0 L566.3 134.0 Z" fill="#fff" stroke="#9a9a9a" stroke-width="0.6"/>
<path d="M571.3 129.9 L573.2 133.4 L569.4 133.4 Z" fill="#111" stroke="none" stroke-width="0"/>
<path d="M574.6 129.8 L576.2 132.7 L573.0 132.7 Z" fill="#fff" stroke="#9a9a9a" stroke-width="0.6"/>
<path d="M578.0 129.1 L579.9 132.6 L576.1 132.6 Z" fill="#111" stroke="none" stroke-width="0"/>
<path d="M581.3 128.4 L582.9 131.4 L579.7 131.4 Z" fill="#fff" stroke="#9a9a9a" stroke-width="0.6"/>
<path d="M584.6 126.4 L586.5 129.9 L582.7 129.9 Z" fill="#111" stroke="none" stroke-width="0"/>
<path d="M588.0 124.7 L589.6 127.7 L586.3 127.7 Z" fill="#fff" stroke="#9a9a9a" stroke-width="0.6"/>
<path d="M591.3 122.3 L593.2 125.8 L589.4 125.8 Z" fill="#111" stroke="none" stroke-width="0"/>
<path d="M594.6 120.5 L596.2 123.5 L593.0 123.5 Z" fill="#fff" stroke="#9a9a9a" stroke-width="0.6"/>
<path d="M598.0 118.8 L599.9 122.3 L596.1 122.3 Z" fill="#111" stroke="none" stroke-width="0"/>
<path d="M601.3 117.1 L602.9 120.1 L599.7 120.1 Z" fill="#fff" stroke="#9a9a9a" stroke-width="0.6"/>
<path d="M604.6 114.5 L606.5 118.0 L602.7 118.0 Z" fill="#111" stroke="none" stroke-width="0"/>
<path d="M608.0 113.2 L609.6 116.2 L606.3 116.2 Z" fill="#fff" stroke="#9a9a9a" stroke-width="0.6"/>
<path d="M611.3 111.0 L613.2 114.5 L609.4 114.5 Z" fill="#111" stroke="none" stroke-width="0"/>
<path d="M614.6 109.3 L616.2 112.3 L613.0 112.3 Z" fill="#fff" stroke="#9a9a9a" stroke-width="0.6"/>
<path d="M618.0 107.0 L619.9 110.5 L616.1 110.5 Z" fill="#111" stroke="none" stroke-width="0"/>
<path d="M621.3 104.8 L622.9 107.7 L619.7 107.7 Z" fill="#fff" stroke="#9a9a9a" stroke-width="0.6"/>
<path d="M624.6 102.8 L626.5 106.3 L622.7 106.3 Z" fill="#111" stroke="none" stroke-width="0"/>
<path d="M628.0 101.1 L629.6 104.1 L626.3 104.1 Z" fill="#fff" stroke="#9a9a9a" stroke-width="0.6"/>
<path d="M631.3 99.1 L633.2 102.6 L629.4 102.6 Z" fill="#111" stroke="none" stroke-width="0"/>
<path d="M634.6 98.1 L636.2 101.0 L633.0 101.0 Z" fill="#fff" stroke="#9a9a9a" stroke-width="0.6"/>
<path d="M637.9 96.4 L639.8 99.9 L636.0 99.9 Z" fill="#111" stroke="none" stroke-width="0"/>
<path d="M641.3 95.4 L642.9 98.3 L639.7 98.3 Z" fill="#fff" stroke="#9a9a9a" stroke-width="0.6"/>
<path d="M644.6 93.8 L646.5 97.3 L642.7 97.3 Z" fill="#111" stroke="none" stroke-width="0"/>
<path d="M647.9 93.0 L649.6 96.0 L646.3 96.0 Z" fill="#fff" stroke="#9a9a9a" stroke-width="0.6"/>
<path d="M651.3 91.8 L653.2 95.3 L649.4 95.3 Z" fill="#111" stroke="none" stroke-width="0"/>
<path d="M654.6 91.4 L656.2 94.4 L653.0 94.4 Z" fill="#fff" stroke="#9a9a9a" stroke-width="0.6"/>
<path d="M657.9 90.7 L659.8 94.2 L656.0 94.2 Z" fill="#111" stroke="none" stroke-width="0"/>
<path d="M661.3 90.8 L662.9 93.8 L659.7 93.8 Z" fill="#fff" stroke="#9a9a9a" stroke-width="0.6"/>
<path d="M664.6 90.6 L666.5 94.1 L662.7 94.1 Z" fill="#111" stroke="none" stroke-width="0"/>
<path d="M667.9 91.1 L669.6 94.1 L666.3 94.1 Z" fill="#fff" stroke="#9a9a9a" stroke-width="0.6"/>
<path d="M671.3 90.9 L673.2 94.4 L669.4 94.4 Z" fill="#111" stroke="none" stroke-width="0"/>
<path d="M674.6 91.3 L676.2 94.3 L673.0 94.3 Z" fill="#fff" stroke="#9a9a9a" stroke-width="0.6"/>
<path d="M485.6 229.8 L488.2 227.2 L491.6 215.2 L495.1 205.0 L498.5 199.9 L501.9 195.6 L505.3 189.7 L508.7 183.7 L512.1 177.7 L515.5 173.5 L518.9 169.2 L522.3 165.8 L525.7 162.4 L529.1 159.3 L532.6 160.7 L536.0 153.9 L539.4 147.0 L542.8 144.5 L546.2 141.9 L549.6 139.4 L553.0 136.8 L556.4 133.4 L559.8 129.0 L563.3 123.9 L567.9 119.3 L572.5 114.6 L577.2 110.0 L580.9 107.8 L585.5 106.0 L590.1 104.8 L594.7 103.6 L600.2 100.8 L604.9 98.9 L610.4 97.1 L615.9 95.2 L621.5 92.8 L627.0 89.7 L631.6 86.9 L636.3 84.2 L640.9 81.8 L645.5 79.5 L650.1 77.3 L654.7 75.5 L659.3 74.0 L664.0 72.9 L668.6 72.2 L674.7 71.6" fill="none" stroke="#666" stroke-width="0.8" stroke-linejoin="round"/>
<circle cx="488.0" cy="227.4" r="1.45" fill="#555" stroke="none" stroke-width="0"/>
<circle cx="491.3" cy="216.3" r="1.45" fill="#555" stroke="none" stroke-width="0"/>
<circle cx="494.6" cy="206.4" r="1.45" fill="#555" stroke="none" stroke-width="0"/>
<circle cx="498.0" cy="200.7" r="1.45" fill="#555" stroke="none" stroke-width="0"/>
<circle cx="501.3" cy="196.4" r="1.45" fill="#555" stroke="none" stroke-width="0"/>
<circle cx="504.6" cy="190.9" r="1.45" fill="#555" stroke="none" stroke-width="0"/>
<circle cx="508.0" cy="185.0" r="1.45" fill="#555" stroke="none" stroke-width="0"/>
<circle cx="511.3" cy="179.1" r="1.45" fill="#555" stroke="none" stroke-width="0"/>
<circle cx="514.6" cy="174.6" r="1.45" fill="#555" stroke="none" stroke-width="0"/>
<circle cx="518.0" cy="170.4" r="1.45" fill="#555" stroke="none" stroke-width="0"/>
<circle cx="521.3" cy="166.8" r="1.45" fill="#555" stroke="none" stroke-width="0"/>
<circle cx="524.6" cy="163.5" r="1.45" fill="#555" stroke="none" stroke-width="0"/>
<circle cx="528.0" cy="160.3" r="1.45" fill="#555" stroke="none" stroke-width="0"/>
<circle cx="531.3" cy="160.2" r="1.45" fill="#555" stroke="none" stroke-width="0"/>
<circle cx="534.6" cy="156.6" r="1.45" fill="#555" stroke="none" stroke-width="0"/>
<circle cx="538.0" cy="149.9" r="1.45" fill="#555" stroke="none" stroke-width="0"/>
<circle cx="541.3" cy="145.6" r="1.45" fill="#555" stroke="none" stroke-width="0"/>
<circle cx="544.6" cy="143.1" r="1.45" fill="#555" stroke="none" stroke-width="0"/>
<circle cx="548.0" cy="140.6" r="1.45" fill="#555" stroke="none" stroke-width="0"/>
<circle cx="551.3" cy="138.1" r="1.45" fill="#555" stroke="none" stroke-width="0"/>
<circle cx="554.6" cy="135.2" r="1.45" fill="#555" stroke="none" stroke-width="0"/>
<circle cx="558.0" cy="131.4" r="1.45" fill="#555" stroke="none" stroke-width="0"/>
<circle cx="561.3" cy="126.8" r="1.45" fill="#555" stroke="none" stroke-width="0"/>
<circle cx="564.6" cy="122.6" r="1.45" fill="#555" stroke="none" stroke-width="0"/>
<circle cx="568.0" cy="119.2" r="1.45" fill="#555" stroke="none" stroke-width="0"/>
<circle cx="571.3" cy="115.8" r="1.45" fill="#555" stroke="none" stroke-width="0"/>
<circle cx="574.6" cy="112.5" r="1.45" fill="#555" stroke="none" stroke-width="0"/>
<circle cx="578.0" cy="109.6" r="1.45" fill="#555" stroke="none" stroke-width="0"/>
<circle cx="581.3" cy="107.6" r="1.45" fill="#555" stroke="none" stroke-width="0"/>
<circle cx="584.6" cy="106.3" r="1.45" fill="#555" stroke="none" stroke-width="0"/>
<circle cx="588.0" cy="105.4" r="1.45" fill="#555" stroke="none" stroke-width="0"/>
<circle cx="591.3" cy="104.5" r="1.45" fill="#555" stroke="none" stroke-width="0"/>
<circle cx="594.6" cy="103.6" r="1.45" fill="#555" stroke="none" stroke-width="0"/>
<circle cx="598.0" cy="101.9" r="1.45" fill="#555" stroke="none" stroke-width="0"/>
<circle cx="601.3" cy="100.4" r="1.45" fill="#555" stroke="none" stroke-width="0"/>
<circle cx="604.6" cy="99.0" r="1.45" fill="#555" stroke="none" stroke-width="0"/>
<circle cx="608.0" cy="97.9" r="1.45" fill="#555" stroke="none" stroke-width="0"/>
<circle cx="611.3" cy="96.8" r="1.45" fill="#555" stroke="none" stroke-width="0"/>
<circle cx="614.6" cy="95.6" r="1.45" fill="#555" stroke="none" stroke-width="0"/>
<circle cx="618.0" cy="94.3" r="1.45" fill="#555" stroke="none" stroke-width="0"/>
<circle cx="621.3" cy="92.9" r="1.45" fill="#555" stroke="none" stroke-width="0"/>
<circle cx="624.6" cy="91.0" r="1.45" fill="#555" stroke="none" stroke-width="0"/>
<circle cx="628.0" cy="89.1" r="1.45" fill="#555" stroke="none" stroke-width="0"/>
<circle cx="631.3" cy="87.1" r="1.45" fill="#555" stroke="none" stroke-width="0"/>
<circle cx="634.6" cy="85.2" r="1.45" fill="#555" stroke="none" stroke-width="0"/>
<circle cx="637.9" cy="83.3" r="1.45" fill="#555" stroke="none" stroke-width="0"/>
<circle cx="641.3" cy="81.6" r="1.45" fill="#555" stroke="none" stroke-width="0"/>
<circle cx="644.6" cy="79.9" r="1.45" fill="#555" stroke="none" stroke-width="0"/>
<circle cx="647.9" cy="78.3" r="1.45" fill="#555" stroke="none" stroke-width="0"/>
<circle cx="651.3" cy="76.8" r="1.45" fill="#555" stroke="none" stroke-width="0"/>
<circle cx="654.6" cy="75.5" r="1.45" fill="#555" stroke="none" stroke-width="0"/>
<circle cx="657.9" cy="74.4" r="1.45" fill="#555" stroke="none" stroke-width="0"/>
<circle cx="661.3" cy="73.5" r="1.45" fill="#555" stroke="none" stroke-width="0"/>
<circle cx="664.6" cy="72.8" r="1.45" fill="#555" stroke="none" stroke-width="0"/>
<circle cx="667.9" cy="72.3" r="1.45" fill="#555" stroke="none" stroke-width="0"/>
<circle cx="671.3" cy="71.9" r="1.45" fill="#555" stroke="none" stroke-width="0"/>
<circle cx="674.6" cy="71.6" r="1.45" fill="#555" stroke="none" stroke-width="0"/>
<path d="M484.5 228.3 L488.2 226.3 L491.6 210.1 L495.1 204.1 L498.5 199.9 L501.9 198.2 L505.3 197.3 L508.7 194.8 L512.1 192.2 L515.5 190.5 L518.9 187.1 L522.3 184.5 L525.7 181.1 L529.1 179.4 L532.6 188.0 L536.0 180.3 L539.4 175.2 L542.8 170.9 L546.2 167.5 L549.6 164.1 L553.0 160.7 L556.4 162.4 L559.8 159.8 L563.3 156.2 L567.0 151.2 L570.7 147.9 L574.4 142.3 L578.1 136.8 L580.9 131.3 L584.5 127.6 L587.3 123.9 L591.0 119.3 L594.7 115.0 L598.4 111.9 L601.2 108.7 L604.9 106.3 L608.6 104.5 L611.3 103.2 L615.0 101.3 L618.7 99.9 L622.4 98.4 L626.1 97.1 L629.8 94.9 L632.6 93.4 L636.3 91.0 L639.0 89.3 L642.7 87.9 L646.4 86.0 L650.1 83.6 L652.9 81.0 L656.6 78.6 L660.3 76.4 L663.0 74.9 L666.7 73.6 L670.4 72.9 L674.7 72.3" fill="none" stroke="#444" stroke-width="0.8" stroke-linejoin="round"/>
<circle cx="484.6" cy="228.2" r="1.75" fill="#0a0a0a"/>
<circle cx="488.0" cy="226.4" r="1.75" fill="#0a0a0a"/>
<circle cx="491.3" cy="211.5" r="1.45" fill="#fff" stroke="#777" stroke-width="0.7"/>
<circle cx="494.6" cy="204.9" r="1.45" fill="#fff" stroke="#777" stroke-width="0.7"/>
<circle cx="498.0" cy="200.6" r="1.75" fill="#0a0a0a"/>
<circle cx="501.3" cy="198.5" r="1.75" fill="#0a0a0a"/>
<circle cx="504.6" cy="197.5" r="1.45" fill="#fff" stroke="#777" stroke-width="0.7"/>
<circle cx="508.0" cy="195.3" r="1.45" fill="#fff" stroke="#777" stroke-width="0.7"/>
<circle cx="511.3" cy="192.8" r="1.75" fill="#0a0a0a"/>
<circle cx="514.6" cy="190.9" r="1.75" fill="#0a0a0a"/>
<circle cx="518.0" cy="188.0" r="1.45" fill="#fff" stroke="#777" stroke-width="0.7"/>
<circle cx="521.3" cy="185.3" r="1.45" fill="#fff" stroke="#777" stroke-width="0.7"/>
<circle cx="524.6" cy="182.2" r="1.75" fill="#0a0a0a"/>
<circle cx="528.0" cy="180.0" r="1.75" fill="#0a0a0a"/>
<circle cx="531.3" cy="184.8" r="1.45" fill="#fff" stroke="#777" stroke-width="0.7"/>
<circle cx="534.6" cy="183.4" r="1.45" fill="#fff" stroke="#777" stroke-width="0.7"/>
<circle cx="538.0" cy="177.4" r="1.75" fill="#0a0a0a"/>
<circle cx="541.3" cy="172.8" r="1.75" fill="#0a0a0a"/>
<circle cx="544.6" cy="169.1" r="1.45" fill="#fff" stroke="#777" stroke-width="0.7"/>
<circle cx="548.0" cy="165.7" r="1.45" fill="#fff" stroke="#777" stroke-width="0.7"/>
<circle cx="551.3" cy="162.4" r="1.75" fill="#0a0a0a"/>
<circle cx="554.6" cy="161.5" r="1.75" fill="#0a0a0a"/>
<circle cx="558.0" cy="161.2" r="1.45" fill="#fff" stroke="#777" stroke-width="0.7"/>
<circle cx="561.3" cy="158.3" r="1.45" fill="#fff" stroke="#777" stroke-width="0.7"/>
<circle cx="564.6" cy="154.4" r="1.75" fill="#0a0a0a"/>
<circle cx="568.0" cy="150.3" r="1.75" fill="#0a0a0a"/>
<circle cx="571.3" cy="147.0" r="1.45" fill="#fff" stroke="#777" stroke-width="0.7"/>
<circle cx="574.6" cy="142.0" r="1.45" fill="#fff" stroke="#777" stroke-width="0.7"/>
<circle cx="578.0" cy="137.0" r="1.75" fill="#0a0a0a"/>
<circle cx="581.3" cy="130.9" r="1.75" fill="#0a0a0a"/>
<circle cx="584.6" cy="127.4" r="1.45" fill="#fff" stroke="#777" stroke-width="0.7"/>
<circle cx="588.0" cy="123.1" r="1.45" fill="#fff" stroke="#777" stroke-width="0.7"/>
<circle cx="591.3" cy="119.0" r="1.75" fill="#0a0a0a"/>
<circle cx="594.6" cy="115.1" r="1.75" fill="#0a0a0a"/>
<circle cx="598.0" cy="112.3" r="1.45" fill="#fff" stroke="#777" stroke-width="0.7"/>
<circle cx="601.3" cy="108.6" r="1.45" fill="#fff" stroke="#777" stroke-width="0.7"/>
<circle cx="604.6" cy="106.5" r="1.75" fill="#0a0a0a"/>
<circle cx="608.0" cy="104.8" r="1.75" fill="#0a0a0a"/>
<circle cx="611.3" cy="103.2" r="1.45" fill="#fff" stroke="#777" stroke-width="0.7"/>
<circle cx="614.6" cy="101.5" r="1.45" fill="#fff" stroke="#777" stroke-width="0.7"/>
<circle cx="618.0" cy="100.2" r="1.75" fill="#0a0a0a"/>
<circle cx="621.3" cy="98.9" r="1.75" fill="#0a0a0a"/>
<circle cx="624.6" cy="97.6" r="1.45" fill="#fff" stroke="#777" stroke-width="0.7"/>
<circle cx="628.0" cy="96.0" r="1.45" fill="#fff" stroke="#777" stroke-width="0.7"/>
<circle cx="631.3" cy="94.1" r="1.75" fill="#0a0a0a"/>
<circle cx="634.6" cy="92.1" r="1.75" fill="#0a0a0a"/>
<circle cx="637.9" cy="90.0" r="1.45" fill="#fff" stroke="#777" stroke-width="0.7"/>
<circle cx="641.3" cy="88.4" r="1.45" fill="#fff" stroke="#777" stroke-width="0.7"/>
<circle cx="644.6" cy="86.9" r="1.75" fill="#0a0a0a"/>
<circle cx="647.9" cy="85.0" r="1.75" fill="#0a0a0a"/>
<circle cx="651.3" cy="82.5" r="1.45" fill="#fff" stroke="#777" stroke-width="0.7"/>
<circle cx="654.6" cy="79.9" r="1.45" fill="#fff" stroke="#777" stroke-width="0.7"/>
<circle cx="657.9" cy="77.8" r="1.75" fill="#0a0a0a"/>
<circle cx="661.3" cy="75.9" r="1.75" fill="#0a0a0a"/>
<circle cx="664.6" cy="74.3" r="1.45" fill="#fff" stroke="#777" stroke-width="0.7"/>
<circle cx="667.9" cy="73.4" r="1.45" fill="#fff" stroke="#777" stroke-width="0.7"/>
<circle cx="671.3" cy="72.8" r="1.75" fill="#0a0a0a"/>
<circle cx="674.6" cy="72.3" r="1.75" fill="#0a0a0a"/>
<path d="M461.3 278.4 L463.5 273.6 L465.8 268.7 L468.0 264.0 L470.2 259.2 L472.4 254.6 L474.6 250.0 L476.8 245.8 L479.0 241.6 L481.3 237.5 L483.5 233.4 L485.6 229.8" fill="none" stroke="#666" stroke-width="0.8" stroke-linejoin="round"/>
<circle cx="461.3" cy="278.4" r="1.5" fill="#b0b0b0" stroke="#484848" stroke-width="0.75"/>
<circle cx="464.6" cy="271.2" r="1.5" fill="#b0b0b0" stroke="#484848" stroke-width="0.75"/>
<circle cx="468.0" cy="264.1" r="1.5" fill="#b0b0b0" stroke="#484848" stroke-width="0.75"/>
<circle cx="471.3" cy="256.9" r="1.5" fill="#b0b0b0" stroke="#484848" stroke-width="0.75"/>
<circle cx="474.6" cy="249.9" r="1.5" fill="#b0b0b0" stroke="#484848" stroke-width="0.75"/>
<circle cx="478.0" cy="243.6" r="1.5" fill="#b0b0b0" stroke="#484848" stroke-width="0.75"/>
<circle cx="481.3" cy="237.5" r="1.5" fill="#b0b0b0" stroke="#484848" stroke-width="0.75"/>
<circle cx="484.6" cy="231.5" r="1.5" fill="#b0b0b0" stroke="#484848" stroke-width="0.75"/>
<text x="448.60" y="57.00" font-size="11" text-anchor="end" fill="#0a0a0a" stroke="#0a0a0a" stroke-width="0.2">8,0</text>
<text x="448.60" y="79.10" font-size="11" text-anchor="end" fill="#0a0a0a" stroke="#0a0a0a" stroke-width="0.2">7,2</text>
<text x="448.60" y="101.20" font-size="11" text-anchor="end" fill="#0a0a0a" stroke="#0a0a0a" stroke-width="0.2">6,4</text>
<text x="448.60" y="123.30" font-size="11" text-anchor="end" fill="#0a0a0a" stroke="#0a0a0a" stroke-width="0.2">5,6</text>
<text x="448.60" y="145.40" font-size="11" text-anchor="end" fill="#0a0a0a" stroke="#0a0a0a" stroke-width="0.2">4,8</text>
<text x="448.60" y="167.50" font-size="11" text-anchor="end" fill="#0a0a0a" stroke="#0a0a0a" stroke-width="0.2">4,0</text>
<text x="448.60" y="189.60" font-size="11" text-anchor="end" fill="#0a0a0a" stroke="#0a0a0a" stroke-width="0.2">3,2</text>
<text x="448.60" y="211.70" font-size="11" text-anchor="end" fill="#0a0a0a" stroke="#0a0a0a" stroke-width="0.2">2,4</text>
<text x="448.60" y="233.80" font-size="11" text-anchor="end" fill="#0a0a0a" stroke="#0a0a0a" stroke-width="0.2">1,6</text>
<text x="448.60" y="255.90" font-size="11" text-anchor="end" fill="#0a0a0a" stroke="#0a0a0a" stroke-width="0.2">0,8</text>
<text x="441.30" y="282.00" font-size="11" text-anchor="middle" fill="#0a0a0a" stroke="#0a0a0a" stroke-width="0.2">0</text>
<text x="461.30" y="301.00" font-size="11" text-anchor="middle" fill="#0a0a0a" stroke="#0a0a0a" stroke-width="0.2">0</text>
<text x="507.70" y="301.00" font-size="11" text-anchor="middle" fill="#0a0a0a" stroke="#0a0a0a" stroke-width="0.2">14</text>
<text x="553.90" y="301.00" font-size="11" text-anchor="middle" fill="#0a0a0a" stroke="#0a0a0a" stroke-width="0.2">28</text>
<text x="600.30" y="301.00" font-size="11" text-anchor="middle" fill="#0a0a0a" stroke="#0a0a0a" stroke-width="0.2">42</text>
<text x="646.80" y="301.00" font-size="11" text-anchor="middle" fill="#0a0a0a" stroke="#0a0a0a" stroke-width="0.2">56</text>
<text x="674.60" y="301.00" font-size="11" text-anchor="middle" fill="#0a0a0a" stroke="#0a0a0a" stroke-width="0.2">64</text>
<text x="562.30" y="323.60" font-size="14.3" text-anchor="middle" textLength="207.0" lengthAdjust="spacingAndGlyphs" fill="#0a0a0a" stroke="#0a0a0a" stroke-width="0.24">Время культивирования (часы)</text>
<text transform="translate(415.20,164.50) rotate(-90)" font-size="14.0" text-anchor="middle" textLength="121.3" lengthAdjust="spacingAndGlyphs" fill="#0a0a0a" stroke="#0a0a0a" stroke-width="0.24">Клеточный индекс</text>
<text x="679.00" y="64.90" font-size="13.8" textLength="61.3" lengthAdjust="spacingAndGlyphs" fill="#0a0a0a" stroke="#0a0a0a" stroke-width="0.24" xml:space="preserve">Контроль</text>
<text x="679.00" y="80.50" font-size="13.8" textLength="86.8" lengthAdjust="spacingAndGlyphs" fill="#0a0a0a" stroke="#0a0a0a" stroke-width="0.24" xml:space="preserve">КР  5 мкмоль</text>
<text x="678.80" y="102.20" font-size="13.8" textLength="92.6" lengthAdjust="spacingAndGlyphs" fill="#0a0a0a" stroke="#0a0a0a" stroke-width="0.24" xml:space="preserve">Д  0,25 мкг/мл</text>
<text x="679.00" y="156.10" font-size="13.8" textLength="43.6" lengthAdjust="spacingAndGlyphs" fill="#0a0a0a" stroke="#0a0a0a" stroke-width="0.24" xml:space="preserve">КР + Д</text>
<!-- chart3 -->
<g transform="translate(0,349.2)">
<rect x="37" y="23.6" width="103" height="14.6" rx="3.5" fill="#fdfdfd" stroke="#a6a6a6" stroke-width="0.9"/>
<text x="88.7" y="33.9" font-size="8.5" font-weight="bold" text-anchor="middle" textLength="95.5" lengthAdjust="spacingAndGlyphs" fill="#222">Normalized Cell Index (NCI)</text>
<path d="M144.2 30.6 L153 26 L153 35.2 Z" fill="#555"/>
<text x="158.9" y="33.2" font-size="7.8" textLength="16.6" lengthAdjust="spacingAndGlyphs" fill="#222" stroke="#222" stroke-width="0.12">Time</text>
<rect x="179.6" y="23.6" width="42" height="14.8" rx="3.5" fill="#fdfdfd" stroke="#a6a6a6" stroke-width="0.9"/>
<text x="200.6" y="34" font-size="8.4" font-weight="bold" text-anchor="middle" textLength="34" lengthAdjust="spacingAndGlyphs" fill="#222">17:00:02</text>
<path d="M238.4 30.8 L229.3 26 L229.3 35.7 Z" fill="#555"/>
<rect x="259.3" y="26.3" width="7.6" height="7.6" rx="1.8" fill="#1a1a1a"/>
<path d="M261.0 30.2 L262.5 31.700000000000003 L265.2 28.5" fill="none" stroke="#fff" stroke-width="1.1" stroke-linecap="round" stroke-linejoin="round"/>
<rect x="303.0" y="26.3" width="7.6" height="7.6" rx="1.8" fill="#1a1a1a"/>
<path d="M304.7 30.2 L306.2 31.700000000000003 L308.9 28.5" fill="none" stroke="#fff" stroke-width="1.1" stroke-linecap="round" stroke-linejoin="round"/>
<text x="271.8" y="33.2" font-size="7.8" textLength="27.6" lengthAdjust="spacingAndGlyphs" fill="#222" stroke="#222" stroke-width="0.12">Average</text>
<text x="315.9" y="33.2" font-size="7.6" textLength="30.5" lengthAdjust="spacingAndGlyphs" fill="#222" stroke="#222" stroke-width="0.12">STD DEV</text>
</g>
<line x1="83.60" y1="409.27" x2="238.30" y2="409.27" stroke="#e3e3e3" stroke-width="0.75"/>
<line x1="83.60" y1="413.74" x2="238.30" y2="413.74" stroke="#e3e3e3" stroke-width="0.75"/>
<line x1="83.60" y1="418.21" x2="238.30" y2="418.21" stroke="#e3e3e3" stroke-width="0.75"/>
<line x1="83.60" y1="422.68" x2="238.30" y2="422.68" stroke="#e3e3e3" stroke-width="0.75"/>
<line x1="83.60" y1="431.62" x2="238.30" y2="431.62" stroke="#e3e3e3" stroke-width="0.75"/>
<line x1="83.60" y1="436.09" x2="238.30" y2="436.09" stroke="#e3e3e3" stroke-width="0.75"/>
<line x1="83.60" y1="440.56" x2="238.30" y2="440.56" stroke="#e3e3e3" stroke-width="0.75"/>
<line x1="83.60" y1="445.03" x2="238.30" y2="445.03" stroke="#e3e3e3" stroke-width="0.75"/>
<line x1="83.60" y1="453.97" x2="238.30" y2="453.97" stroke="#e3e3e3" stroke-width="0.75"/>
<line x1="83.60" y1="458.44" x2="238.30" y2="458.44" stroke="#e3e3e3" stroke-width="0.75"/>
<line x1="83.60" y1="462.91" x2="238.30" y2="462.91" stroke="#e3e3e3" stroke-width="0.75"/>
<line x1="83.60" y1="467.38" x2="238.30" y2="467.38" stroke="#e3e3e3" stroke-width="0.75"/>
<line x1="83.60" y1="476.32" x2="238.30" y2="476.32" stroke="#e3e3e3" stroke-width="0.75"/>
<line x1="83.60" y1="480.79" x2="238.30" y2="480.79" stroke="#e3e3e3" stroke-width="0.75"/>
<line x1="83.60" y1="485.26" x2="238.30" y2="485.26" stroke="#e3e3e3" stroke-width="0.75"/>
<line x1="83.60" y1="489.73" x2="238.30" y2="489.73" stroke="#e3e3e3" stroke-width="0.75"/>
<line x1="83.60" y1="498.67" x2="238.30" y2="498.67" stroke="#e3e3e3" stroke-width="0.75"/>
<line x1="83.60" y1="503.14" x2="238.30" y2="503.14" stroke="#e3e3e3" stroke-width="0.75"/>
<line x1="83.60" y1="507.61" x2="238.30" y2="507.61" stroke="#e3e3e3" stroke-width="0.75"/>
<line x1="83.60" y1="512.08" x2="238.30" y2="512.08" stroke="#e3e3e3" stroke-width="0.75"/>
<line x1="83.60" y1="521.02" x2="238.30" y2="521.02" stroke="#e3e3e3" stroke-width="0.75"/>
<line x1="83.60" y1="525.49" x2="238.30" y2="525.49" stroke="#e3e3e3" stroke-width="0.75"/>
<line x1="83.60" y1="529.96" x2="238.30" y2="529.96" stroke="#e3e3e3" stroke-width="0.75"/>
<line x1="83.60" y1="534.43" x2="238.30" y2="534.43" stroke="#e3e3e3" stroke-width="0.75"/>
<line x1="83.60" y1="543.37" x2="238.30" y2="543.37" stroke="#e3e3e3" stroke-width="0.75"/>
<line x1="83.60" y1="547.84" x2="238.30" y2="547.84" stroke="#e3e3e3" stroke-width="0.75"/>
<line x1="83.60" y1="552.31" x2="238.30" y2="552.31" stroke="#e3e3e3" stroke-width="0.75"/>
<line x1="83.60" y1="556.78" x2="238.30" y2="556.78" stroke="#e3e3e3" stroke-width="0.75"/>
<line x1="83.60" y1="565.72" x2="238.30" y2="565.72" stroke="#e3e3e3" stroke-width="0.75"/>
<line x1="83.60" y1="570.19" x2="238.30" y2="570.19" stroke="#e3e3e3" stroke-width="0.75"/>
<line x1="83.60" y1="574.66" x2="238.30" y2="574.66" stroke="#e3e3e3" stroke-width="0.75"/>
<line x1="83.60" y1="579.13" x2="238.30" y2="579.13" stroke="#e3e3e3" stroke-width="0.75"/>
<line x1="83.60" y1="588.07" x2="238.30" y2="588.07" stroke="#e3e3e3" stroke-width="0.75"/>
<line x1="83.60" y1="592.54" x2="238.30" y2="592.54" stroke="#e3e3e3" stroke-width="0.75"/>
<line x1="83.60" y1="597.01" x2="238.30" y2="597.01" stroke="#e3e3e3" stroke-width="0.75"/>
<line x1="83.60" y1="601.48" x2="238.30" y2="601.48" stroke="#e3e3e3" stroke-width="0.75"/>
<line x1="83.60" y1="610.42" x2="238.30" y2="610.42" stroke="#e3e3e3" stroke-width="0.75"/>
<line x1="83.60" y1="614.89" x2="238.30" y2="614.89" stroke="#e3e3e3" stroke-width="0.75"/>
<line x1="83.60" y1="619.36" x2="238.30" y2="619.36" stroke="#e3e3e3" stroke-width="0.75"/>
<line x1="83.60" y1="623.83" x2="238.30" y2="623.83" stroke="#e3e3e3" stroke-width="0.75"/>
<line x1="75.30" y1="404.80" x2="238.30" y2="404.80" stroke="#a4a4a4" stroke-width="1.4"/>
<line x1="75.30" y1="427.15" x2="238.30" y2="427.15" stroke="#7c7c7c" stroke-width="0.95"/>
<line x1="75.30" y1="449.50" x2="238.30" y2="449.50" stroke="#7c7c7c" stroke-width="0.95"/>
<line x1="75.30" y1="471.85" x2="238.30" y2="471.85" stroke="#7c7c7c" stroke-width="0.95"/>
<line x1="75.30" y1="494.20" x2="238.30" y2="494.20" stroke="#7c7c7c" stroke-width="0.95"/>
<line x1="75.30" y1="516.55" x2="238.30" y2="516.55" stroke="#7c7c7c" stroke-width="0.95"/>
<line x1="75.30" y1="538.90" x2="238.30" y2="538.90" stroke="#7c7c7c" stroke-width="0.95"/>
<line x1="75.30" y1="561.25" x2="238.30" y2="561.25" stroke="#7c7c7c" stroke-width="0.95"/>
<line x1="75.30" y1="583.60" x2="238.30" y2="583.60" stroke="#7c7c7c" stroke-width="0.95"/>
<line x1="75.30" y1="605.95" x2="238.30" y2="605.95" stroke="#7c7c7c" stroke-width="0.95"/>
<line x1="75.30" y1="628.30" x2="238.30" y2="628.30" stroke="#7c7c7c" stroke-width="0.95"/>
<line x1="129.60" y1="404.80" x2="129.60" y2="628.30" stroke="#777" stroke-width="0.9" stroke-dasharray="1.1 1.1"/>
<line x1="129.60" y1="628.30" x2="129.60" y2="635.80" stroke="#808080" stroke-width="0.9"/>
<line x1="175.70" y1="404.80" x2="175.70" y2="628.30" stroke="#777" stroke-width="0.9" stroke-dasharray="1.1 1.1"/>
<line x1="175.70" y1="628.30" x2="175.70" y2="635.80" stroke="#808080" stroke-width="0.9"/>
<line x1="222.50" y1="404.80" x2="222.50" y2="628.30" stroke="#777" stroke-width="0.9" stroke-dasharray="1.1 1.1"/>
<line x1="222.50" y1="628.30" x2="222.50" y2="635.80" stroke="#808080" stroke-width="0.9"/>
<line x1="82.60" y1="404.80" x2="82.60" y2="635.80" stroke="#6a6a6a" stroke-width="1.1"/>
<line x1="238.30" y1="404.80" x2="238.30" y2="635.80" stroke="#888" stroke-width="0.9"/>
<line x1="120.30" y1="404.80" x2="120.30" y2="628.30" stroke="#333" stroke-width="1.5"/>
<path d="M123.7 546.5 L125.2 553.8 L126.5 560.1 L129.1 562.6 L132.3 558.0 L135.5 553.3 L137.4 548.8 L141.0 544.0 L144.4 539.2 L146.3 536.6 L150.0 535.6 L153.4 536.2 L155.3 533.2 L157.8 527.2 L160.4 521.0 L162.3 515.4 L168.7 515.8 L176.4 517.1 L184.1 518.0 L191.7 517.0 L197.7 515.6 L205.6 517.4 L215.6 520.3 L225.5 523.3 L233.5 525.3 L238.3 526.7" fill="none" stroke="#fff" stroke-opacity="0.7" stroke-width="3.2" stroke-linejoin="round"/>
<path d="M123.7 546.5 L125.2 553.8 L126.5 560.1 L129.1 562.6 L132.3 558.0 L135.5 553.3 L137.4 548.8 L141.0 544.0 L144.4 539.2 L146.3 536.6 L150.0 535.6 L153.4 536.2 L155.3 533.2 L157.8 527.2 L160.4 521.0 L162.3 515.4 L168.7 515.8 L176.4 517.1 L184.1 518.0 L191.7 517.0 L197.7 515.6 L205.6 517.4 L215.6 520.3 L225.5 523.3 L233.5 525.3 L238.3 526.7" fill="none" stroke="#111" stroke-width="1.25" stroke-dasharray="6 2.2" stroke-linejoin="round"/>
<path d="M123.7 545.8 L124.7 544.8 L126.7 548.7 L129.7 542.8 L134.7 536.8 L140.0 530.3 L146.0 523.3 L150.9 517.4 L154.9 511.4 L159.9 506.4 L164.9 501.5 L169.8 495.5 L175.8 489.5 L180.8 483.5 L185.8 476.6 L189.7 473.6 L193.7 467.6 L197.7 465.6 L201.7 463.7 L205.6 458.7 L209.6 453.7 L213.6 448.7 L217.6 443.8 L221.6 437.8 L225.5 432.8 L229.5 428.8 L233.5 424.9 L236.5 418.9 L238.0 417.5" fill="none" stroke="#fff" stroke-opacity="0.6" stroke-width="5.0" stroke-linejoin="round"/>
<path d="M123.7 545.8 L124.7 544.8 L126.7 548.7 L129.7 542.8 L134.7 536.8 L140.0 530.3 L146.0 523.3 L150.9 517.4 L154.9 511.4 L159.9 506.4 L164.9 501.5 L169.8 495.5 L175.8 489.5 L180.8 483.5 L185.8 476.6 L189.7 473.6 L193.7 467.6 L197.7 465.6 L201.7 463.7 L205.6 458.7 L209.6 453.7 L213.6 448.7 L217.6 443.8 L221.6 437.8 L225.5 432.8 L229.5 428.8 L233.5 424.9 L236.5 418.9 L238.0 417.5" fill="none" stroke="#8a8a8a" stroke-width="1.1" stroke-linejoin="round"/>
<circle cx="125.2" cy="545.7" r="1.55" fill="#5a5a5a" stroke="none" stroke-width="0"/>
<circle cx="127.4" cy="547.4" r="1.55" fill="#5a5a5a" stroke="none" stroke-width="0"/>
<circle cx="129.6" cy="543.0" r="1.55" fill="#5a5a5a" stroke="none" stroke-width="0"/>
<circle cx="131.8" cy="540.3" r="1.55" fill="#5a5a5a" stroke="none" stroke-width="0"/>
<circle cx="134.0" cy="537.6" r="1.55" fill="#5a5a5a" stroke="none" stroke-width="0"/>
<circle cx="136.2" cy="534.9" r="1.55" fill="#5a5a5a" stroke="none" stroke-width="0"/>
<circle cx="138.5" cy="532.2" r="1.55" fill="#5a5a5a" stroke="none" stroke-width="0"/>
<circle cx="140.7" cy="529.5" r="1.55" fill="#5a5a5a" stroke="none" stroke-width="0"/>
<circle cx="142.9" cy="526.9" r="1.55" fill="#5a5a5a" stroke="none" stroke-width="0"/>
<circle cx="145.1" cy="524.3" r="1.55" fill="#5a5a5a" stroke="none" stroke-width="0"/>
<circle cx="147.3" cy="521.7" r="1.55" fill="#5a5a5a" stroke="none" stroke-width="0"/>
<circle cx="149.6" cy="519.0" r="1.55" fill="#5a5a5a" stroke="none" stroke-width="0"/>
<circle cx="151.8" cy="516.1" r="1.55" fill="#5a5a5a" stroke="none" stroke-width="0"/>
<circle cx="154.0" cy="512.8" r="1.55" fill="#5a5a5a" stroke="none" stroke-width="0"/>
<circle cx="156.2" cy="510.1" r="1.55" fill="#5a5a5a" stroke="none" stroke-width="0"/>
<circle cx="158.4" cy="507.9" r="1.55" fill="#5a5a5a" stroke="none" stroke-width="0"/>
<circle cx="160.7" cy="505.7" r="1.55" fill="#5a5a5a" stroke="none" stroke-width="0"/>
<circle cx="162.9" cy="503.5" r="1.55" fill="#5a5a5a" stroke="none" stroke-width="0"/>
<circle cx="165.1" cy="501.3" r="1.55" fill="#5a5a5a" stroke="none" stroke-width="0"/>
<circle cx="167.3" cy="498.6" r="1.55" fill="#5a5a5a" stroke="none" stroke-width="0"/>
<circle cx="169.5" cy="495.8" r="1.55" fill="#5a5a5a" stroke="none" stroke-width="0"/>
<circle cx="171.7" cy="493.6" r="1.55" fill="#5a5a5a" stroke="none" stroke-width="0"/>
<circle cx="174.0" cy="491.3" r="1.55" fill="#5a5a5a" stroke="none" stroke-width="0"/>
<circle cx="176.2" cy="489.0" r="1.55" fill="#5a5a5a" stroke="none" stroke-width="0"/>
<circle cx="178.4" cy="486.4" r="1.55" fill="#5a5a5a" stroke="none" stroke-width="0"/>
<circle cx="180.6" cy="483.7" r="1.55" fill="#5a5a5a" stroke="none" stroke-width="0"/>
<circle cx="182.8" cy="480.7" r="1.55" fill="#5a5a5a" stroke="none" stroke-width="0"/>
<circle cx="185.1" cy="477.6" r="1.55" fill="#5a5a5a" stroke="none" stroke-width="0"/>
<circle cx="187.3" cy="475.5" r="1.55" fill="#5a5a5a" stroke="none" stroke-width="0"/>
<circle cx="189.5" cy="473.8" r="1.55" fill="#5a5a5a" stroke="none" stroke-width="0"/>
<circle cx="191.7" cy="470.6" r="1.55" fill="#5a5a5a" stroke="none" stroke-width="0"/>
<circle cx="193.9" cy="467.5" r="1.55" fill="#5a5a5a" stroke="none" stroke-width="0"/>
<circle cx="196.1" cy="466.4" r="1.55" fill="#5a5a5a" stroke="none" stroke-width="0"/>
<circle cx="198.4" cy="465.3" r="1.55" fill="#5a5a5a" stroke="none" stroke-width="0"/>
<circle cx="200.6" cy="464.2" r="1.55" fill="#5a5a5a" stroke="none" stroke-width="0"/>
<circle cx="202.8" cy="462.3" r="1.55" fill="#5a5a5a" stroke="none" stroke-width="0"/>
<circle cx="205.0" cy="459.4" r="1.55" fill="#5a5a5a" stroke="none" stroke-width="0"/>
<circle cx="207.2" cy="456.6" r="1.55" fill="#5a5a5a" stroke="none" stroke-width="0"/>
<circle cx="209.5" cy="453.9" r="1.55" fill="#5a5a5a" stroke="none" stroke-width="0"/>
<circle cx="211.7" cy="451.1" r="1.55" fill="#5a5a5a" stroke="none" stroke-width="0"/>
<circle cx="213.9" cy="448.3" r="1.55" fill="#5a5a5a" stroke="none" stroke-width="0"/>
<circle cx="216.1" cy="445.6" r="1.55" fill="#5a5a5a" stroke="none" stroke-width="0"/>
<circle cx="218.3" cy="442.7" r="1.55" fill="#5a5a5a" stroke="none" stroke-width="0"/>
<circle cx="220.6" cy="439.4" r="1.55" fill="#5a5a5a" stroke="none" stroke-width="0"/>
<circle cx="222.8" cy="436.3" r="1.55" fill="#5a5a5a" stroke="none" stroke-width="0"/>
<circle cx="225.0" cy="433.5" r="1.55" fill="#5a5a5a" stroke="none" stroke-width="0"/>
<circle cx="227.2" cy="431.1" r="1.55" fill="#5a5a5a" stroke="none" stroke-width="0"/>
<circle cx="229.4" cy="428.9" r="1.55" fill="#5a5a5a" stroke="none" stroke-width="0"/>
<circle cx="231.6" cy="426.7" r="1.55" fill="#5a5a5a" stroke="none" stroke-width="0"/>
<circle cx="233.9" cy="424.2" r="1.55" fill="#5a5a5a" stroke="none" stroke-width="0"/>
<circle cx="236.1" cy="419.7" r="1.55" fill="#5a5a5a" stroke="none" stroke-width="0"/>
<path d="M123.7 545.8 L124.7 544.8 L126.7 548.7 L129.7 543.3 L134.7 537.3 L140.0 530.8 L146.0 523.8 L150.9 517.9 L154.9 511.9 L159.9 506.9 L164.9 502.0 L169.8 496.5 L172.8 499.5 L176.8 503.4 L180.8 504.4 L185.8 502.4 L189.7 500.5 L193.7 497.5 L198.7 494.5 L203.7 491.9 L208.6 490.5 L213.6 489.1 L218.6 487.5 L223.5 485.9 L228.5 484.9 L233.5 483.9 L238.0 483.4" fill="none" stroke="#444" stroke-width="0.8" stroke-linejoin="round"/>
<path d="M125.2 543.6 L127.1 547.2 L123.2 547.2 Z" fill="#161616" stroke="none" stroke-width="0"/>
<path d="M127.4 545.8 L129.0 548.8 L125.8 548.8 Z" fill="#fff" stroke="#666" stroke-width="0.6"/>
<path d="M129.6 541.4 L131.5 545.0 L127.6 545.0 Z" fill="#161616" stroke="none" stroke-width="0"/>
<path d="M131.8 539.1 L133.4 542.0 L130.2 542.0 Z" fill="#fff" stroke="#666" stroke-width="0.6"/>
<path d="M134.0 536.1 L136.0 539.6 L132.1 539.6 Z" fill="#161616" stroke="none" stroke-width="0"/>
<path d="M136.2 533.7 L137.9 536.7 L134.6 536.7 Z" fill="#fff" stroke="#666" stroke-width="0.6"/>
<path d="M138.5 530.6 L140.4 534.2 L136.5 534.2 Z" fill="#161616" stroke="none" stroke-width="0"/>
<path d="M140.7 528.3 L142.3 531.3 L139.1 531.3 Z" fill="#fff" stroke="#666" stroke-width="0.6"/>
<path d="M142.9 525.4 L144.8 529.0 L141.0 529.0 Z" fill="#161616" stroke="none" stroke-width="0"/>
<path d="M145.1 523.1 L146.7 526.1 L143.5 526.1 Z" fill="#fff" stroke="#666" stroke-width="0.6"/>
<path d="M147.3 520.1 L149.3 523.7 L145.4 523.7 Z" fill="#161616" stroke="none" stroke-width="0"/>
<path d="M149.6 517.8 L151.2 520.8 L147.9 520.8 Z" fill="#fff" stroke="#666" stroke-width="0.6"/>
<path d="M151.8 514.5 L153.7 518.1 L149.8 518.1 Z" fill="#161616" stroke="none" stroke-width="0"/>
<path d="M154.0 511.6 L155.6 514.5 L152.4 514.5 Z" fill="#fff" stroke="#666" stroke-width="0.6"/>
<path d="M156.2 508.5 L158.2 512.1 L154.3 512.1 Z" fill="#161616" stroke="none" stroke-width="0"/>
<path d="M158.4 506.7 L160.0 509.6 L156.8 509.6 Z" fill="#fff" stroke="#666" stroke-width="0.6"/>
<path d="M160.7 504.1 L162.6 507.7 L158.7 507.7 Z" fill="#161616" stroke="none" stroke-width="0"/>
<path d="M162.9 502.3 L164.5 505.3 L161.3 505.3 Z" fill="#fff" stroke="#666" stroke-width="0.6"/>
<path d="M165.1 499.7 L167.0 503.3 L163.1 503.3 Z" fill="#161616" stroke="none" stroke-width="0"/>
<path d="M167.3 497.6 L168.9 500.6 L165.7 500.6 Z" fill="#fff" stroke="#666" stroke-width="0.6"/>
<path d="M169.5 494.8 L171.5 498.3 L167.6 498.3 Z" fill="#161616" stroke="none" stroke-width="0"/>
<path d="M171.7 496.7 L173.4 499.7 L170.1 499.7 Z" fill="#fff" stroke="#666" stroke-width="0.6"/>
<path d="M174.0 498.6 L175.9 502.2 L172.0 502.2 Z" fill="#161616" stroke="none" stroke-width="0"/>
<path d="M176.2 501.1 L177.8 504.1 L174.6 504.1 Z" fill="#fff" stroke="#666" stroke-width="0.6"/>
<path d="M178.4 501.7 L180.3 505.3 L176.5 505.3 Z" fill="#161616" stroke="none" stroke-width="0"/>
<path d="M180.6 502.7 L182.2 505.6 L179.0 505.6 Z" fill="#fff" stroke="#666" stroke-width="0.6"/>
<path d="M182.8 501.5 L184.8 505.1 L180.9 505.1 Z" fill="#161616" stroke="none" stroke-width="0"/>
<path d="M185.1 501.0 L186.7 504.0 L183.4 504.0 Z" fill="#fff" stroke="#666" stroke-width="0.6"/>
<path d="M187.3 499.6 L189.2 503.2 L185.3 503.2 Z" fill="#161616" stroke="none" stroke-width="0"/>
<path d="M189.5 498.9 L191.1 501.9 L187.9 501.9 Z" fill="#fff" stroke="#666" stroke-width="0.6"/>
<path d="M191.7 496.9 L193.7 500.5 L189.8 500.5 Z" fill="#161616" stroke="none" stroke-width="0"/>
<path d="M193.9 495.7 L195.5 498.6 L192.3 498.6 Z" fill="#fff" stroke="#666" stroke-width="0.6"/>
<path d="M196.1 494.0 L198.1 497.6 L194.2 497.6 Z" fill="#161616" stroke="none" stroke-width="0"/>
<path d="M198.4 493.0 L200.0 496.0 L196.8 496.0 Z" fill="#fff" stroke="#666" stroke-width="0.6"/>
<path d="M200.6 491.5 L202.5 495.1 L198.6 495.1 Z" fill="#161616" stroke="none" stroke-width="0"/>
<path d="M202.8 490.7 L204.4 493.6 L201.2 493.6 Z" fill="#fff" stroke="#666" stroke-width="0.6"/>
<path d="M205.0 489.5 L207.0 493.1 L203.1 493.1 Z" fill="#161616" stroke="none" stroke-width="0"/>
<path d="M207.2 489.2 L208.9 492.2 L205.6 492.2 Z" fill="#fff" stroke="#666" stroke-width="0.6"/>
<path d="M209.5 488.2 L211.4 491.8 L207.5 491.8 Z" fill="#161616" stroke="none" stroke-width="0"/>
<path d="M211.7 487.9 L213.3 490.9 L210.1 490.9 Z" fill="#fff" stroke="#666" stroke-width="0.6"/>
<path d="M213.9 487.0 L215.8 490.5 L211.9 490.5 Z" fill="#161616" stroke="none" stroke-width="0"/>
<path d="M216.1 486.6 L217.7 489.6 L214.5 489.6 Z" fill="#fff" stroke="#666" stroke-width="0.6"/>
<path d="M218.3 485.5 L220.3 489.1 L216.4 489.1 Z" fill="#161616" stroke="none" stroke-width="0"/>
<path d="M220.6 485.2 L222.2 488.1 L218.9 488.1 Z" fill="#fff" stroke="#666" stroke-width="0.6"/>
<path d="M222.8 484.1 L224.7 487.7 L220.8 487.7 Z" fill="#161616" stroke="none" stroke-width="0"/>
<path d="M225.0 483.9 L226.6 486.9 L223.4 486.9 Z" fill="#fff" stroke="#666" stroke-width="0.6"/>
<path d="M227.2 483.1 L229.2 486.7 L225.3 486.7 Z" fill="#161616" stroke="none" stroke-width="0"/>
<path d="M229.4 483.0 L231.0 486.0 L227.8 486.0 Z" fill="#fff" stroke="#666" stroke-width="0.6"/>
<path d="M231.6 482.2 L233.6 485.8 L229.7 485.8 Z" fill="#161616" stroke="none" stroke-width="0"/>
<path d="M233.9 482.2 L235.5 485.1 L232.2 485.1 Z" fill="#fff" stroke="#666" stroke-width="0.6"/>
<path d="M236.1 481.6 L238.0 485.2 L234.1 485.2 Z" fill="#161616" stroke="none" stroke-width="0"/>
<path d="M123.7 545.8 L125.2 553.0 L126.5 559.3 L129.1 561.6 L132.3 557.0 L135.5 552.3 L137.4 547.8 L141.0 543.0 L144.4 538.2 L146.3 535.6 L150.0 534.6 L153.4 535.2 L155.3 532.2 L157.8 526.2 L160.4 520.3 L162.3 517.3 L165.2 514.0 L168.1 510.7 L170.6 507.5 L174.2 503.6 L177.7 499.8 L178.9 497.3 L182.0 493.5 L185.3 489.6 L188.5 486.1 L191.7 483.2 L195.7 477.6 L199.7 473.6 L203.7 470.6 L207.6 467.6 L212.6 462.7 L217.6 457.7 L222.6 452.7 L227.5 447.7 L231.5 444.8 L236.5 441.8 L238.0 441.0" fill="none" stroke="#fff" stroke-opacity="0.8" stroke-width="5.5" stroke-linejoin="round"/>
<path d="M123.7 545.8 L125.2 553.0 L126.5 559.3 L129.1 561.6 L132.3 557.0 L135.5 552.3 L137.4 547.8 L141.0 543.0 L144.4 538.2 L146.3 535.6 L150.0 534.6 L153.4 535.2 L155.3 532.2 L157.8 526.2 L160.4 520.3 L162.3 517.3 L165.2 514.0 L168.1 510.7 L170.6 507.5 L174.2 503.6 L177.7 499.8 L178.9 497.3 L182.0 493.5 L185.3 489.6 L188.5 486.1 L191.7 483.2 L195.7 477.6 L199.7 473.6 L203.7 470.6 L207.6 467.6 L212.6 462.7 L217.6 457.7 L222.6 452.7 L227.5 447.7 L231.5 444.8 L236.5 441.8 L238.0 441.0" fill="none" stroke="#777" stroke-width="0.8" stroke-linejoin="round"/>
<circle cx="125.2" cy="552.8" r="1.85" fill="#0a0a0a"/>
<circle cx="127.4" cy="560.1" r="1.85" fill="#0a0a0a"/>
<circle cx="129.6" cy="560.9" r="1.3" fill="#fff" stroke="#8a8a8a" stroke-width="0.7"/>
<circle cx="131.8" cy="557.7" r="1.3" fill="#fff" stroke="#8a8a8a" stroke-width="0.7"/>
<circle cx="134.0" cy="554.5" r="1.85" fill="#0a0a0a"/>
<circle cx="136.2" cy="550.5" r="1.85" fill="#0a0a0a"/>
<circle cx="138.5" cy="546.4" r="1.3" fill="#fff" stroke="#8a8a8a" stroke-width="0.7"/>
<circle cx="140.7" cy="543.4" r="1.3" fill="#fff" stroke="#8a8a8a" stroke-width="0.7"/>
<circle cx="142.9" cy="540.3" r="1.85" fill="#0a0a0a"/>
<circle cx="145.1" cy="537.2" r="1.85" fill="#0a0a0a"/>
<circle cx="147.3" cy="535.3" r="1.3" fill="#fff" stroke="#8a8a8a" stroke-width="0.7"/>
<circle cx="149.6" cy="534.7" r="1.3" fill="#fff" stroke="#8a8a8a" stroke-width="0.7"/>
<circle cx="151.8" cy="534.9" r="1.85" fill="#0a0a0a"/>
<circle cx="154.0" cy="534.3" r="1.85" fill="#0a0a0a"/>
<circle cx="156.2" cy="530.0" r="1.3" fill="#fff" stroke="#8a8a8a" stroke-width="0.7"/>
<circle cx="158.4" cy="524.8" r="1.3" fill="#fff" stroke="#8a8a8a" stroke-width="0.7"/>
<circle cx="160.7" cy="519.9" r="1.85" fill="#0a0a0a"/>
<circle cx="162.9" cy="516.7" r="1.85" fill="#0a0a0a"/>
<circle cx="165.1" cy="514.1" r="1.3" fill="#fff" stroke="#8a8a8a" stroke-width="0.7"/>
<circle cx="167.3" cy="511.6" r="1.3" fill="#fff" stroke="#8a8a8a" stroke-width="0.7"/>
<circle cx="169.5" cy="508.9" r="1.85" fill="#0a0a0a"/>
<circle cx="171.7" cy="506.3" r="1.85" fill="#0a0a0a"/>
<circle cx="174.0" cy="503.9" r="1.3" fill="#fff" stroke="#8a8a8a" stroke-width="0.7"/>
<circle cx="176.2" cy="501.4" r="1.3" fill="#fff" stroke="#8a8a8a" stroke-width="0.7"/>
<circle cx="178.4" cy="498.3" r="1.85" fill="#0a0a0a"/>
<circle cx="180.6" cy="495.2" r="1.85" fill="#0a0a0a"/>
<circle cx="182.8" cy="492.5" r="1.3" fill="#fff" stroke="#8a8a8a" stroke-width="0.7"/>
<circle cx="185.1" cy="489.9" r="1.3" fill="#fff" stroke="#8a8a8a" stroke-width="0.7"/>
<circle cx="187.3" cy="487.4" r="1.85" fill="#0a0a0a"/>
<circle cx="189.5" cy="485.2" r="1.85" fill="#0a0a0a"/>
<circle cx="191.7" cy="483.2" r="1.3" fill="#fff" stroke="#8a8a8a" stroke-width="0.7"/>
<circle cx="193.9" cy="480.1" r="1.3" fill="#fff" stroke="#8a8a8a" stroke-width="0.7"/>
<circle cx="196.1" cy="477.2" r="1.85" fill="#0a0a0a"/>
<circle cx="198.4" cy="474.9" r="1.85" fill="#0a0a0a"/>
<circle cx="200.6" cy="472.9" r="1.3" fill="#fff" stroke="#8a8a8a" stroke-width="0.7"/>
<circle cx="202.8" cy="471.3" r="1.3" fill="#fff" stroke="#8a8a8a" stroke-width="0.7"/>
<circle cx="205.0" cy="469.6" r="1.85" fill="#0a0a0a"/>
<circle cx="207.2" cy="467.9" r="1.85" fill="#0a0a0a"/>
<circle cx="209.5" cy="465.8" r="1.3" fill="#fff" stroke="#8a8a8a" stroke-width="0.7"/>
<circle cx="211.7" cy="463.6" r="1.3" fill="#fff" stroke="#8a8a8a" stroke-width="0.7"/>
<circle cx="213.9" cy="461.4" r="1.85" fill="#0a0a0a"/>
<circle cx="216.1" cy="459.2" r="1.85" fill="#0a0a0a"/>
<circle cx="218.3" cy="457.0" r="1.3" fill="#fff" stroke="#8a8a8a" stroke-width="0.7"/>
<circle cx="220.6" cy="454.7" r="1.3" fill="#fff" stroke="#8a8a8a" stroke-width="0.7"/>
<circle cx="222.8" cy="452.5" r="1.85" fill="#0a0a0a"/>
<circle cx="225.0" cy="450.3" r="1.85" fill="#0a0a0a"/>
<circle cx="227.2" cy="448.0" r="1.3" fill="#fff" stroke="#8a8a8a" stroke-width="0.7"/>
<circle cx="229.4" cy="446.3" r="1.3" fill="#fff" stroke="#8a8a8a" stroke-width="0.7"/>
<circle cx="231.6" cy="444.7" r="1.85" fill="#0a0a0a"/>
<circle cx="233.9" cy="443.4" r="1.85" fill="#0a0a0a"/>
<circle cx="236.1" cy="442.0" r="1.3" fill="#fff" stroke="#8a8a8a" stroke-width="0.7"/>
<path d="M82.6 628.1 L84.5 620.3 L88.8 612.4 L93.0 602.5 L97.3 592.6 L101.6 582.6 L105.8 572.7 L110.1 564.9 L114.4 558.5 L118.6 552.8 L122.9 546.4 L124.3 545.0" fill="none" stroke="#4c4c4c" stroke-width="3.3" stroke-linejoin="round"/>
<circle cx="83.0" cy="626.5" r="1.1" fill="#e2e2e2" stroke="none" stroke-width="0"/>
<circle cx="85.2" cy="619.0" r="1.1" fill="#e2e2e2" stroke="none" stroke-width="0"/>
<circle cx="87.4" cy="614.9" r="1.1" fill="#e2e2e2" stroke="none" stroke-width="0"/>
<circle cx="89.7" cy="610.4" r="1.1" fill="#e2e2e2" stroke="none" stroke-width="0"/>
<circle cx="91.9" cy="605.2" r="1.1" fill="#e2e2e2" stroke="none" stroke-width="0"/>
<circle cx="94.1" cy="600.0" r="1.1" fill="#e2e2e2" stroke="none" stroke-width="0"/>
<circle cx="96.3" cy="594.9" r="1.1" fill="#e2e2e2" stroke="none" stroke-width="0"/>
<circle cx="98.5" cy="589.7" r="1.1" fill="#e2e2e2" stroke="none" stroke-width="0"/>
<circle cx="100.7" cy="584.6" r="1.1" fill="#e2e2e2" stroke="none" stroke-width="0"/>
<circle cx="103.0" cy="579.4" r="1.1" fill="#e2e2e2" stroke="none" stroke-width="0"/>
<circle cx="105.2" cy="574.1" r="1.1" fill="#e2e2e2" stroke="none" stroke-width="0"/>
<circle cx="107.4" cy="569.8" r="1.1" fill="#e2e2e2" stroke="none" stroke-width="0"/>
<circle cx="109.6" cy="565.8" r="1.1" fill="#e2e2e2" stroke="none" stroke-width="0"/>
<circle cx="111.8" cy="562.3" r="1.1" fill="#e2e2e2" stroke="none" stroke-width="0"/>
<circle cx="114.1" cy="559.0" r="1.1" fill="#e2e2e2" stroke="none" stroke-width="0"/>
<circle cx="116.3" cy="555.9" r="1.1" fill="#e2e2e2" stroke="none" stroke-width="0"/>
<circle cx="118.5" cy="552.9" r="1.1" fill="#e2e2e2" stroke="none" stroke-width="0"/>
<circle cx="120.7" cy="549.7" r="1.1" fill="#e2e2e2" stroke="none" stroke-width="0"/>
<circle cx="122.9" cy="546.4" r="1.1" fill="#e2e2e2" stroke="none" stroke-width="0"/>
<text x="69.60" y="405.50" font-size="11" text-anchor="end" fill="#0a0a0a" stroke="#0a0a0a" stroke-width="0.2">3,0</text>
<text x="69.60" y="427.85" font-size="11" text-anchor="end" fill="#0a0a0a" stroke="#0a0a0a" stroke-width="0.2">2,7</text>
<text x="69.60" y="450.20" font-size="11" text-anchor="end" fill="#0a0a0a" stroke="#0a0a0a" stroke-width="0.2">2,4</text>
<text x="69.60" y="472.55" font-size="11" text-anchor="end" fill="#0a0a0a" stroke="#0a0a0a" stroke-width="0.2">2,1</text>
<text x="69.60" y="494.90" font-size="11" text-anchor="end" fill="#0a0a0a" stroke="#0a0a0a" stroke-width="0.2">1,8</text>
<text x="69.60" y="517.25" font-size="11" text-anchor="end" fill="#0a0a0a" stroke="#0a0a0a" stroke-width="0.2">1,5</text>
<text x="69.60" y="539.60" font-size="11" text-anchor="end" fill="#0a0a0a" stroke="#0a0a0a" stroke-width="0.2">1,2</text>
<text x="69.60" y="561.95" font-size="11" text-anchor="end" fill="#0a0a0a" stroke="#0a0a0a" stroke-width="0.2">0,9</text>
<text x="69.60" y="584.30" font-size="11" text-anchor="end" fill="#0a0a0a" stroke="#0a0a0a" stroke-width="0.2">0,6</text>
<text x="69.60" y="606.65" font-size="11" text-anchor="end" fill="#0a0a0a" stroke="#0a0a0a" stroke-width="0.2">0,3</text>
<text x="62.30" y="633.00" font-size="11" text-anchor="middle" fill="#0a0a0a" stroke="#0a0a0a" stroke-width="0.2">0</text>
<text x="83.00" y="650.90" font-size="11" text-anchor="middle" fill="#0a0a0a" stroke="#0a0a0a" stroke-width="0.2">0</text>
<text x="129.60" y="650.90" font-size="11" text-anchor="middle" fill="#0a0a0a" stroke="#0a0a0a" stroke-width="0.2">21</text>
<text x="175.70" y="650.90" font-size="11" text-anchor="middle" fill="#0a0a0a" stroke="#0a0a0a" stroke-width="0.2">42</text>
<text x="220.50" y="650.90" font-size="11" text-anchor="middle" fill="#0a0a0a" stroke="#0a0a0a" stroke-width="0.2">63</text>
<text x="243.00" y="650.90" font-size="11" text-anchor="middle" fill="#0a0a0a" stroke="#0a0a0a" stroke-width="0.2">70</text>
<text x="182.80" y="672.80" font-size="14.3" text-anchor="middle" textLength="206.0" lengthAdjust="spacingAndGlyphs" fill="#0a0a0a" stroke="#0a0a0a" stroke-width="0.24">Время культивирования (часы)</text>
<text transform="translate(37.00,515.70) rotate(-90)" font-size="14.0" text-anchor="middle" textLength="121.3" lengthAdjust="spacingAndGlyphs" fill="#0a0a0a" stroke="#0a0a0a" stroke-width="0.24">Клеточный индекс</text>
<text x="243.50" y="423.10" font-size="13.8" textLength="61.9" lengthAdjust="spacingAndGlyphs" fill="#0a0a0a" stroke="#0a0a0a" stroke-width="0.24" xml:space="preserve">Контроль</text>
<text x="243.50" y="447.90" font-size="13.8" textLength="99.0" lengthAdjust="spacingAndGlyphs" fill="#0a0a0a" stroke="#0a0a0a" stroke-width="0.24" xml:space="preserve">КБ  0,1 мкмоль</text>
<text x="243.50" y="489.40" font-size="13.8" textLength="92.3" lengthAdjust="spacingAndGlyphs" fill="#0a0a0a" stroke="#0a0a0a" stroke-width="0.24" xml:space="preserve">Д  0,25 мкг/мл</text>
<text x="243.70" y="536.10" font-size="13.8" textLength="43.6" lengthAdjust="spacingAndGlyphs" fill="#0a0a0a" stroke="#0a0a0a" stroke-width="0.24" xml:space="preserve">КБ + Д</text>
<!-- chart4 -->
<g transform="translate(378.8,350.0)">
<rect x="37" y="23.6" width="103" height="14.6" rx="3.5" fill="#fdfdfd" stroke="#a6a6a6" stroke-width="0.9"/>
<text x="88.7" y="33.9" font-size="8.5" font-weight="bold" text-anchor="middle" textLength="95.5" lengthAdjust="spacingAndGlyphs" fill="#222">Normalized Cell Index (NCI)</text>
<path d="M144.2 30.6 L153 26 L153 35.2 Z" fill="#555"/>
<text x="158.9" y="33.2" font-size="7.8" textLength="16.6" lengthAdjust="spacingAndGlyphs" fill="#222" stroke="#222" stroke-width="0.12">Time</text>
<rect x="179.6" y="23.6" width="42" height="14.8" rx="3.5" fill="#fdfdfd" stroke="#a6a6a6" stroke-width="0.9"/>
<text x="200.6" y="34" font-size="8.4" font-weight="bold" text-anchor="middle" textLength="34" lengthAdjust="spacingAndGlyphs" fill="#222">17:00:02</text>
<path d="M238.4 30.8 L229.3 26 L229.3 35.7 Z" fill="#555"/>
<rect x="259.3" y="26.3" width="7.6" height="7.6" rx="1.8" fill="#1a1a1a"/>
<path d="M261.0 30.2 L262.5 31.700000000000003 L265.2 28.5" fill="none" stroke="#fff" stroke-width="1.1" stroke-linecap="round" stroke-linejoin="round"/>
<rect x="303.0" y="26.3" width="7.6" height="7.6" rx="1.8" fill="#1a1a1a"/>
<path d="M304.7 30.2 L306.2 31.700000000000003 L308.9 28.5" fill="none" stroke="#fff" stroke-width="1.1" stroke-linecap="round" stroke-linejoin="round"/>
<text x="271.8" y="33.2" font-size="7.8" textLength="27.6" lengthAdjust="spacingAndGlyphs" fill="#222" stroke="#222" stroke-width="0.12">Average</text>
<text x="315.9" y="33.2" font-size="7.6" textLength="30.5" lengthAdjust="spacingAndGlyphs" fill="#222" stroke="#222" stroke-width="0.12">STD DEV</text>
</g>
<line x1="462.40" y1="409.07" x2="647.00" y2="409.07" stroke="#e3e3e3" stroke-width="0.75"/>
<line x1="462.40" y1="413.55" x2="647.00" y2="413.55" stroke="#e3e3e3" stroke-width="0.75"/>
<line x1="462.40" y1="418.02" x2="647.00" y2="418.02" stroke="#e3e3e3" stroke-width="0.75"/>
<line x1="462.40" y1="422.50" x2="647.00" y2="422.50" stroke="#e3e3e3" stroke-width="0.75"/>
<line x1="462.40" y1="431.44" x2="647.00" y2="431.44" stroke="#e3e3e3" stroke-width="0.75"/>
<line x1="462.40" y1="435.92" x2="647.00" y2="435.92" stroke="#e3e3e3" stroke-width="0.75"/>
<line x1="462.40" y1="440.39" x2="647.00" y2="440.39" stroke="#e3e3e3" stroke-width="0.75"/>
<line x1="462.40" y1="444.87" x2="647.00" y2="444.87" stroke="#e3e3e3" stroke-width="0.75"/>
<line x1="462.40" y1="453.81" x2="647.00" y2="453.81" stroke="#e3e3e3" stroke-width="0.75"/>
<line x1="462.40" y1="458.29" x2="647.00" y2="458.29" stroke="#e3e3e3" stroke-width="0.75"/>
<line x1="462.40" y1="462.76" x2="647.00" y2="462.76" stroke="#e3e3e3" stroke-width="0.75"/>
<line x1="462.40" y1="467.24" x2="647.00" y2="467.24" stroke="#e3e3e3" stroke-width="0.75"/>
<line x1="462.40" y1="476.18" x2="647.00" y2="476.18" stroke="#e3e3e3" stroke-width="0.75"/>
<line x1="462.40" y1="480.66" x2="647.00" y2="480.66" stroke="#e3e3e3" stroke-width="0.75"/>
<line x1="462.40" y1="485.13" x2="647.00" y2="485.13" stroke="#e3e3e3" stroke-width="0.75"/>
<line x1="462.40" y1="489.61" x2="647.00" y2="489.61" stroke="#e3e3e3" stroke-width="0.75"/>
<line x1="462.40" y1="498.55" x2="647.00" y2="498.55" stroke="#e3e3e3" stroke-width="0.75"/>
<line x1="462.40" y1="503.03" x2="647.00" y2="503.03" stroke="#e3e3e3" stroke-width="0.75"/>
<line x1="462.40" y1="507.50" x2="647.00" y2="507.50" stroke="#e3e3e3" stroke-width="0.75"/>
<line x1="462.40" y1="511.98" x2="647.00" y2="511.98" stroke="#e3e3e3" stroke-width="0.75"/>
<line x1="462.40" y1="520.92" x2="647.00" y2="520.92" stroke="#e3e3e3" stroke-width="0.75"/>
<line x1="462.40" y1="525.40" x2="647.00" y2="525.40" stroke="#e3e3e3" stroke-width="0.75"/>
<line x1="462.40" y1="529.87" x2="647.00" y2="529.87" stroke="#e3e3e3" stroke-width="0.75"/>
<line x1="462.40" y1="534.35" x2="647.00" y2="534.35" stroke="#e3e3e3" stroke-width="0.75"/>
<line x1="462.40" y1="543.29" x2="647.00" y2="543.29" stroke="#e3e3e3" stroke-width="0.75"/>
<line x1="462.40" y1="547.77" x2="647.00" y2="547.77" stroke="#e3e3e3" stroke-width="0.75"/>
<line x1="462.40" y1="552.24" x2="647.00" y2="552.24" stroke="#e3e3e3" stroke-width="0.75"/>
<line x1="462.40" y1="556.72" x2="647.00" y2="556.72" stroke="#e3e3e3" stroke-width="0.75"/>
<line x1="462.40" y1="565.66" x2="647.00" y2="565.66" stroke="#e3e3e3" stroke-width="0.75"/>
<line x1="462.40" y1="570.14" x2="647.00" y2="570.14" stroke="#e3e3e3" stroke-width="0.75"/>
<line x1="462.40" y1="574.61" x2="647.00" y2="574.61" stroke="#e3e3e3" stroke-width="0.75"/>
<line x1="462.40" y1="579.09" x2="647.00" y2="579.09" stroke="#e3e3e3" stroke-width="0.75"/>
<line x1="462.40" y1="588.03" x2="647.00" y2="588.03" stroke="#e3e3e3" stroke-width="0.75"/>
<line x1="462.40" y1="592.51" x2="647.00" y2="592.51" stroke="#e3e3e3" stroke-width="0.75"/>
<line x1="462.40" y1="596.98" x2="647.00" y2="596.98" stroke="#e3e3e3" stroke-width="0.75"/>
<line x1="462.40" y1="601.46" x2="647.00" y2="601.46" stroke="#e3e3e3" stroke-width="0.75"/>
<line x1="462.40" y1="610.40" x2="647.00" y2="610.40" stroke="#e3e3e3" stroke-width="0.75"/>
<line x1="462.40" y1="614.88" x2="647.00" y2="614.88" stroke="#e3e3e3" stroke-width="0.75"/>
<line x1="462.40" y1="619.35" x2="647.00" y2="619.35" stroke="#e3e3e3" stroke-width="0.75"/>
<line x1="462.40" y1="623.83" x2="647.00" y2="623.83" stroke="#e3e3e3" stroke-width="0.75"/>
<line x1="454.10" y1="404.60" x2="647.00" y2="404.60" stroke="#a4a4a4" stroke-width="1.4"/>
<line x1="454.10" y1="426.97" x2="647.00" y2="426.97" stroke="#7c7c7c" stroke-width="0.95"/>
<line x1="454.10" y1="449.34" x2="647.00" y2="449.34" stroke="#7c7c7c" stroke-width="0.95"/>
<line x1="454.10" y1="471.71" x2="647.00" y2="471.71" stroke="#7c7c7c" stroke-width="0.95"/>
<line x1="454.10" y1="494.08" x2="647.00" y2="494.08" stroke="#7c7c7c" stroke-width="0.95"/>
<line x1="454.10" y1="516.45" x2="647.00" y2="516.45" stroke="#7c7c7c" stroke-width="0.95"/>
<line x1="454.10" y1="538.82" x2="647.00" y2="538.82" stroke="#7c7c7c" stroke-width="0.95"/>
<line x1="454.10" y1="561.19" x2="647.00" y2="561.19" stroke="#7c7c7c" stroke-width="0.95"/>
<line x1="454.10" y1="583.56" x2="647.00" y2="583.56" stroke="#7c7c7c" stroke-width="0.95"/>
<line x1="454.10" y1="605.93" x2="647.00" y2="605.93" stroke="#7c7c7c" stroke-width="0.95"/>
<line x1="454.10" y1="628.30" x2="647.00" y2="628.30" stroke="#7c7c7c" stroke-width="0.95"/>
<line x1="507.70" y1="404.60" x2="507.70" y2="628.30" stroke="#777" stroke-width="0.9" stroke-dasharray="1.1 1.1"/>
<line x1="507.70" y1="628.30" x2="507.70" y2="635.80" stroke="#808080" stroke-width="0.9"/>
<line x1="554.50" y1="404.60" x2="554.50" y2="628.30" stroke="#777" stroke-width="0.9" stroke-dasharray="1.1 1.1"/>
<line x1="554.50" y1="628.30" x2="554.50" y2="635.80" stroke="#808080" stroke-width="0.9"/>
<line x1="600.30" y1="404.60" x2="600.30" y2="628.30" stroke="#777" stroke-width="0.9" stroke-dasharray="1.1 1.1"/>
<line x1="600.30" y1="628.30" x2="600.30" y2="635.80" stroke="#808080" stroke-width="0.9"/>
<line x1="461.40" y1="404.60" x2="461.40" y2="635.80" stroke="#6a6a6a" stroke-width="1.1"/>
<line x1="647.00" y1="404.60" x2="647.00" y2="635.80" stroke="#888" stroke-width="0.9"/>
<line x1="503.60" y1="404.60" x2="503.60" y2="628.30" stroke="#222" stroke-width="1.5"/>
<path d="M507.8 546.3 L511.0 551.9 L514.2 546.3 L518.7 540.7 L524.4 538.2 L530.8 534.6 L537.2 531.8 L540.4 527.0 L543.6 519.6 L548.7 514.8 L555.1 512.3 L560.0 510.4 L564.9 508.4 L572.8 505.0 L580.8 501.5 L586.8 498.5 L592.7 496.5 L596.7 499.5 L600.7 497.5 L606.7 495.9 L614.6 495.1 L622.6 495.9 L630.5 496.9 L638.5 497.9 L643.5 499.5 L646.9 501.8" fill="none" stroke="#fff" stroke-opacity="0.7" stroke-width="3.2" stroke-linejoin="round"/>
<path d="M507.8 546.3 L511.0 551.9 L514.2 546.3 L518.7 540.7 L524.4 538.2 L530.8 534.6 L537.2 531.8 L540.4 527.0 L543.6 519.6 L548.7 514.8 L555.1 512.3 L560.0 510.4 L564.9 508.4 L572.8 505.0 L580.8 501.5 L586.8 498.5 L592.7 496.5 L596.7 499.5 L600.7 497.5 L606.7 495.9 L614.6 495.1 L622.6 495.9 L630.5 496.9 L638.5 497.9 L643.5 499.5 L646.9 501.8" fill="none" stroke="#111" stroke-width="1.25" stroke-dasharray="6 2.2" stroke-linejoin="round"/>
<path d="M507.7 546.7 L509.7 544.8 L511.7 548.7 L514.7 539.8 L518.7 535.8 L524.6 532.8 L530.6 529.8 L534.6 524.9 L538.5 523.9 L541.5 515.9 L545.0 512.4 L551.0 505.4 L556.9 499.5 L562.9 494.5 L568.9 489.5 L574.8 484.5 L580.8 480.6 L586.8 478.0 L592.7 475.2 L596.7 469.6 L599.7 465.2 L604.7 463.7 L610.6 458.7 L616.6 452.7 L622.6 446.7 L628.5 440.8 L634.5 438.2 L640.5 437.2 L642.5 436.8 L644.5 428.8 L646.5 423.5" fill="none" stroke="#fff" stroke-opacity="0.6" stroke-width="5.0" stroke-linejoin="round"/>
<path d="M507.7 546.7 L509.7 544.8 L511.7 548.7 L514.7 539.8 L518.7 535.8 L524.6 532.8 L530.6 529.8 L534.6 524.9 L538.5 523.9 L541.5 515.9 L545.0 512.4 L551.0 505.4 L556.9 499.5 L562.9 494.5 L568.9 489.5 L574.8 484.5 L580.8 480.6 L586.8 478.0 L592.7 475.2 L596.7 469.6 L599.7 465.2 L604.7 463.7 L610.6 458.7 L616.6 452.7 L622.6 446.7 L628.5 440.8 L634.5 438.2 L640.5 437.2 L642.5 436.8 L644.5 428.8 L646.5 423.5" fill="none" stroke="#8a8a8a" stroke-width="1.1" stroke-linejoin="round"/>
<circle cx="507.7" cy="546.7" r="1.55" fill="#5a5a5a" stroke="none" stroke-width="0"/>
<circle cx="510.2" cy="545.7" r="1.55" fill="#5a5a5a" stroke="none" stroke-width="0"/>
<circle cx="512.6" cy="546.0" r="1.55" fill="#5a5a5a" stroke="none" stroke-width="0"/>
<circle cx="515.0" cy="539.5" r="1.55" fill="#5a5a5a" stroke="none" stroke-width="0"/>
<circle cx="517.5" cy="537.0" r="1.55" fill="#5a5a5a" stroke="none" stroke-width="0"/>
<circle cx="519.9" cy="535.2" r="1.55" fill="#5a5a5a" stroke="none" stroke-width="0"/>
<circle cx="522.4" cy="533.9" r="1.55" fill="#5a5a5a" stroke="none" stroke-width="0"/>
<circle cx="524.8" cy="532.7" r="1.55" fill="#5a5a5a" stroke="none" stroke-width="0"/>
<circle cx="527.2" cy="531.5" r="1.55" fill="#5a5a5a" stroke="none" stroke-width="0"/>
<circle cx="529.7" cy="530.3" r="1.55" fill="#5a5a5a" stroke="none" stroke-width="0"/>
<circle cx="532.1" cy="528.0" r="1.55" fill="#5a5a5a" stroke="none" stroke-width="0"/>
<circle cx="534.5" cy="525.0" r="1.55" fill="#5a5a5a" stroke="none" stroke-width="0"/>
<circle cx="537.0" cy="524.3" r="1.55" fill="#5a5a5a" stroke="none" stroke-width="0"/>
<circle cx="539.4" cy="521.5" r="1.55" fill="#5a5a5a" stroke="none" stroke-width="0"/>
<circle cx="541.9" cy="515.5" r="1.55" fill="#5a5a5a" stroke="none" stroke-width="0"/>
<circle cx="544.3" cy="513.1" r="1.55" fill="#5a5a5a" stroke="none" stroke-width="0"/>
<circle cx="546.7" cy="510.4" r="1.55" fill="#5a5a5a" stroke="none" stroke-width="0"/>
<circle cx="549.2" cy="507.5" r="1.55" fill="#5a5a5a" stroke="none" stroke-width="0"/>
<circle cx="551.6" cy="504.8" r="1.55" fill="#5a5a5a" stroke="none" stroke-width="0"/>
<circle cx="554.0" cy="502.4" r="1.55" fill="#5a5a5a" stroke="none" stroke-width="0"/>
<circle cx="556.5" cy="499.9" r="1.55" fill="#5a5a5a" stroke="none" stroke-width="0"/>
<circle cx="558.9" cy="497.8" r="1.55" fill="#5a5a5a" stroke="none" stroke-width="0"/>
<circle cx="561.4" cy="495.8" r="1.55" fill="#5a5a5a" stroke="none" stroke-width="0"/>
<circle cx="563.8" cy="493.8" r="1.55" fill="#5a5a5a" stroke="none" stroke-width="0"/>
<circle cx="566.2" cy="491.7" r="1.55" fill="#5a5a5a" stroke="none" stroke-width="0"/>
<circle cx="568.7" cy="489.7" r="1.55" fill="#5a5a5a" stroke="none" stroke-width="0"/>
<circle cx="571.1" cy="487.6" r="1.55" fill="#5a5a5a" stroke="none" stroke-width="0"/>
<circle cx="573.5" cy="485.6" r="1.55" fill="#5a5a5a" stroke="none" stroke-width="0"/>
<circle cx="576.0" cy="483.7" r="1.55" fill="#5a5a5a" stroke="none" stroke-width="0"/>
<circle cx="578.4" cy="482.1" r="1.55" fill="#5a5a5a" stroke="none" stroke-width="0"/>
<circle cx="580.9" cy="480.6" r="1.55" fill="#5a5a5a" stroke="none" stroke-width="0"/>
<circle cx="583.3" cy="479.5" r="1.55" fill="#5a5a5a" stroke="none" stroke-width="0"/>
<circle cx="585.7" cy="478.5" r="1.55" fill="#5a5a5a" stroke="none" stroke-width="0"/>
<circle cx="588.2" cy="477.3" r="1.55" fill="#5a5a5a" stroke="none" stroke-width="0"/>
<circle cx="590.6" cy="476.2" r="1.55" fill="#5a5a5a" stroke="none" stroke-width="0"/>
<circle cx="593.1" cy="474.7" r="1.55" fill="#5a5a5a" stroke="none" stroke-width="0"/>
<circle cx="595.5" cy="471.3" r="1.55" fill="#5a5a5a" stroke="none" stroke-width="0"/>
<circle cx="597.9" cy="467.8" r="1.55" fill="#5a5a5a" stroke="none" stroke-width="0"/>
<circle cx="600.4" cy="465.0" r="1.55" fill="#5a5a5a" stroke="none" stroke-width="0"/>
<circle cx="602.8" cy="464.3" r="1.55" fill="#5a5a5a" stroke="none" stroke-width="0"/>
<circle cx="605.2" cy="463.2" r="1.55" fill="#5a5a5a" stroke="none" stroke-width="0"/>
<circle cx="607.7" cy="461.2" r="1.55" fill="#5a5a5a" stroke="none" stroke-width="0"/>
<circle cx="610.1" cy="459.1" r="1.55" fill="#5a5a5a" stroke="none" stroke-width="0"/>
<circle cx="612.6" cy="456.7" r="1.55" fill="#5a5a5a" stroke="none" stroke-width="0"/>
<circle cx="615.0" cy="454.3" r="1.55" fill="#5a5a5a" stroke="none" stroke-width="0"/>
<circle cx="617.4" cy="451.9" r="1.55" fill="#5a5a5a" stroke="none" stroke-width="0"/>
<circle cx="619.9" cy="449.4" r="1.55" fill="#5a5a5a" stroke="none" stroke-width="0"/>
<circle cx="622.3" cy="447.0" r="1.55" fill="#5a5a5a" stroke="none" stroke-width="0"/>
<circle cx="624.7" cy="444.6" r="1.55" fill="#5a5a5a" stroke="none" stroke-width="0"/>
<circle cx="627.2" cy="442.1" r="1.55" fill="#5a5a5a" stroke="none" stroke-width="0"/>
<circle cx="629.6" cy="440.3" r="1.55" fill="#5a5a5a" stroke="none" stroke-width="0"/>
<circle cx="632.1" cy="439.3" r="1.55" fill="#5a5a5a" stroke="none" stroke-width="0"/>
<circle cx="634.5" cy="438.2" r="1.55" fill="#5a5a5a" stroke="none" stroke-width="0"/>
<circle cx="636.9" cy="437.8" r="1.55" fill="#5a5a5a" stroke="none" stroke-width="0"/>
<circle cx="639.4" cy="437.4" r="1.55" fill="#5a5a5a" stroke="none" stroke-width="0"/>
<circle cx="641.8" cy="436.9" r="1.55" fill="#5a5a5a" stroke="none" stroke-width="0"/>
<circle cx="644.2" cy="429.8" r="1.55" fill="#5a5a5a" stroke="none" stroke-width="0"/>
<path d="M507.7 548.2 L509.7 546.3 L511.7 550.2 L514.7 541.3 L518.7 537.3 L524.6 534.3 L530.6 531.3 L534.6 526.4 L538.5 525.4 L541.5 517.4 L545.0 513.9 L551.0 509.0 L556.9 505.0 L562.9 501.8 L568.9 499.5 L574.8 496.5 L580.8 492.5 L586.8 487.5 L592.7 483.5 L596.7 485.9 L600.7 479.6 L604.7 477.2 L610.6 475.6 L616.6 475.2 L622.6 475.2 L628.5 475.6 L634.5 475.6 L640.5 476.0 L644.5 478.6 L646.9 480.6" fill="none" stroke="#444" stroke-width="0.8" stroke-linejoin="round"/>
<path d="M507.7 546.1 L509.7 549.7 L505.8 549.7 Z" fill="#161616" stroke="none" stroke-width="0"/>
<path d="M510.2 545.5 L511.8 548.5 L508.5 548.5 Z" fill="#fff" stroke="#666" stroke-width="0.6"/>
<path d="M512.6 545.5 L514.5 549.1 L510.7 549.1 Z" fill="#161616" stroke="none" stroke-width="0"/>
<path d="M515.0 539.3 L516.7 542.2 L513.4 542.2 Z" fill="#fff" stroke="#666" stroke-width="0.6"/>
<path d="M517.5 536.5 L519.4 540.1 L515.5 540.1 Z" fill="#161616" stroke="none" stroke-width="0"/>
<path d="M519.9 535.0 L521.5 538.0 L518.3 538.0 Z" fill="#fff" stroke="#666" stroke-width="0.6"/>
<path d="M522.4 533.4 L524.3 537.0 L520.4 537.0 Z" fill="#161616" stroke="none" stroke-width="0"/>
<path d="M524.8 532.5 L526.4 535.5 L523.2 535.5 Z" fill="#fff" stroke="#666" stroke-width="0.6"/>
<path d="M527.2 530.9 L529.2 534.5 L525.3 534.5 Z" fill="#161616" stroke="none" stroke-width="0"/>
<path d="M529.7 530.1 L531.3 533.0 L528.0 533.0 Z" fill="#fff" stroke="#666" stroke-width="0.6"/>
<path d="M532.1 527.4 L534.0 531.0 L530.2 531.0 Z" fill="#161616" stroke="none" stroke-width="0"/>
<path d="M534.5 524.8 L536.2 527.7 L532.9 527.7 Z" fill="#fff" stroke="#666" stroke-width="0.6"/>
<path d="M537.0 523.7 L538.9 527.3 L535.0 527.3 Z" fill="#161616" stroke="none" stroke-width="0"/>
<path d="M539.4 521.3 L541.0 524.2 L537.8 524.2 Z" fill="#fff" stroke="#666" stroke-width="0.6"/>
<path d="M541.9 515.0 L543.8 518.6 L539.9 518.6 Z" fill="#161616" stroke="none" stroke-width="0"/>
<path d="M544.3 512.9 L545.9 515.9 L542.7 515.9 Z" fill="#fff" stroke="#666" stroke-width="0.6"/>
<path d="M546.7 510.4 L548.7 514.0 L544.8 514.0 Z" fill="#161616" stroke="none" stroke-width="0"/>
<path d="M549.2 508.8 L550.8 511.8 L547.6 511.8 Z" fill="#fff" stroke="#666" stroke-width="0.6"/>
<path d="M551.6 506.5 L553.6 510.1 L549.7 510.1 Z" fill="#161616" stroke="none" stroke-width="0"/>
<path d="M554.0 505.2 L555.7 508.2 L552.4 508.2 Z" fill="#fff" stroke="#666" stroke-width="0.6"/>
<path d="M556.5 503.2 L558.4 506.8 L554.5 506.8 Z" fill="#161616" stroke="none" stroke-width="0"/>
<path d="M558.9 502.2 L560.5 505.2 L557.3 505.2 Z" fill="#fff" stroke="#666" stroke-width="0.6"/>
<path d="M561.4 500.6 L563.3 504.2 L559.4 504.2 Z" fill="#161616" stroke="none" stroke-width="0"/>
<path d="M563.8 499.8 L565.4 502.7 L562.2 502.7 Z" fill="#fff" stroke="#666" stroke-width="0.6"/>
<path d="M566.2 498.5 L568.2 502.1 L564.3 502.1 Z" fill="#161616" stroke="none" stroke-width="0"/>
<path d="M568.7 497.9 L570.3 500.9 L567.1 500.9 Z" fill="#fff" stroke="#666" stroke-width="0.6"/>
<path d="M571.1 496.3 L573.1 499.9 L569.2 499.9 Z" fill="#161616" stroke="none" stroke-width="0"/>
<path d="M573.5 495.4 L575.2 498.4 L571.9 498.4 Z" fill="#fff" stroke="#666" stroke-width="0.6"/>
<path d="M576.0 493.7 L577.9 497.2 L574.0 497.2 Z" fill="#161616" stroke="none" stroke-width="0"/>
<path d="M578.4 492.4 L580.0 495.4 L576.8 495.4 Z" fill="#fff" stroke="#666" stroke-width="0.6"/>
<path d="M580.9 490.4 L582.8 494.0 L578.9 494.0 Z" fill="#161616" stroke="none" stroke-width="0"/>
<path d="M583.3 488.7 L584.9 491.7 L581.7 491.7 Z" fill="#fff" stroke="#666" stroke-width="0.6"/>
<path d="M585.7 486.3 L587.7 489.9 L583.8 489.9 Z" fill="#161616" stroke="none" stroke-width="0"/>
<path d="M588.2 484.9 L589.8 487.8 L586.6 487.8 Z" fill="#fff" stroke="#666" stroke-width="0.6"/>
<path d="M590.6 482.9 L592.6 486.5 L588.7 486.5 Z" fill="#161616" stroke="none" stroke-width="0"/>
<path d="M593.1 482.0 L594.7 485.0 L591.4 485.0 Z" fill="#fff" stroke="#666" stroke-width="0.6"/>
<path d="M595.5 483.1 L597.4 486.7 L593.5 486.7 Z" fill="#161616" stroke="none" stroke-width="0"/>
<path d="M597.9 482.3 L599.5 485.2 L596.3 485.2 Z" fill="#fff" stroke="#666" stroke-width="0.6"/>
<path d="M600.4 478.1 L602.3 481.7 L598.4 481.7 Z" fill="#161616" stroke="none" stroke-width="0"/>
<path d="M602.8 476.6 L604.4 479.6 L601.2 479.6 Z" fill="#fff" stroke="#666" stroke-width="0.6"/>
<path d="M605.2 475.0 L607.2 478.6 L603.3 478.6 Z" fill="#161616" stroke="none" stroke-width="0"/>
<path d="M607.7 474.7 L609.3 477.7 L606.1 477.7 Z" fill="#fff" stroke="#666" stroke-width="0.6"/>
<path d="M610.1 473.7 L612.1 477.3 L608.2 477.3 Z" fill="#161616" stroke="none" stroke-width="0"/>
<path d="M612.6 473.8 L614.2 476.7 L610.9 476.7 Z" fill="#fff" stroke="#666" stroke-width="0.6"/>
<path d="M615.0 473.3 L616.9 476.8 L613.0 476.8 Z" fill="#161616" stroke="none" stroke-width="0"/>
<path d="M617.4 473.5 L619.0 476.5 L615.8 476.5 Z" fill="#fff" stroke="#666" stroke-width="0.6"/>
<path d="M619.9 473.1 L621.8 476.7 L617.9 476.7 Z" fill="#161616" stroke="none" stroke-width="0"/>
<path d="M622.3 473.5 L623.9 476.5 L620.7 476.5 Z" fill="#fff" stroke="#666" stroke-width="0.6"/>
<path d="M624.7 473.3 L626.7 476.9 L622.8 476.9 Z" fill="#161616" stroke="none" stroke-width="0"/>
<path d="M627.2 473.8 L628.8 476.8 L625.6 476.8 Z" fill="#fff" stroke="#666" stroke-width="0.6"/>
<path d="M629.6 473.6 L631.6 477.1 L627.7 477.1 Z" fill="#161616" stroke="none" stroke-width="0"/>
<path d="M632.1 473.9 L633.7 476.9 L630.4 476.9 Z" fill="#fff" stroke="#666" stroke-width="0.6"/>
<path d="M634.5 473.6 L636.4 477.1 L632.6 477.1 Z" fill="#161616" stroke="none" stroke-width="0"/>
<path d="M636.9 474.1 L638.6 477.0 L635.3 477.0 Z" fill="#fff" stroke="#666" stroke-width="0.6"/>
<path d="M639.4 473.9 L641.3 477.5 L637.4 477.5 Z" fill="#161616" stroke="none" stroke-width="0"/>
<path d="M641.8 475.2 L643.4 478.1 L640.2 478.1 Z" fill="#fff" stroke="#666" stroke-width="0.6"/>
<path d="M644.2 476.4 L646.2 480.0 L642.3 480.0 Z" fill="#161616" stroke="none" stroke-width="0"/>
<path d="M646.7 478.7 L648.3 481.7 L645.1 481.7 Z" fill="#fff" stroke="#666" stroke-width="0.6"/>
<path d="M545.0 513.4 L551.0 507.4 L556.9 502.4 L562.9 498.5 L568.9 493.5 L574.8 488.5 L580.8 484.5 L586.8 481.6 L592.7 477.6 L596.7 475.2 L600.7 471.6 L606.7 467.6 L612.6 463.7 L618.6 460.7 L624.6 456.7 L630.5 452.1 L636.5 449.3 L642.5 447.3 L646.5 442.2" fill="none" stroke="#fff" stroke-opacity="0.8" stroke-width="5.5" stroke-linejoin="round"/>
<path d="M545.0 513.4 L551.0 507.4 L556.9 502.4 L562.9 498.5 L568.9 493.5 L574.8 488.5 L580.8 484.5 L586.8 481.6 L592.7 477.6 L596.7 475.2 L600.7 471.6 L606.7 467.6 L612.6 463.7 L618.6 460.7 L624.6 456.7 L630.5 452.1 L636.5 449.3 L642.5 447.3 L646.5 442.2" fill="none" stroke="#777" stroke-width="0.8" stroke-linejoin="round"/>
<circle cx="546.7" cy="511.7" r="1.85" fill="#0a0a0a"/>
<circle cx="549.2" cy="509.2" r="1.85" fill="#0a0a0a"/>
<circle cx="551.6" cy="506.9" r="1.3" fill="#fff" stroke="#8a8a8a" stroke-width="0.7"/>
<circle cx="554.0" cy="504.8" r="1.3" fill="#fff" stroke="#8a8a8a" stroke-width="0.7"/>
<circle cx="556.5" cy="502.8" r="1.85" fill="#0a0a0a"/>
<circle cx="558.9" cy="501.1" r="1.85" fill="#0a0a0a"/>
<circle cx="561.4" cy="499.5" r="1.3" fill="#fff" stroke="#8a8a8a" stroke-width="0.7"/>
<circle cx="563.8" cy="497.8" r="1.3" fill="#fff" stroke="#8a8a8a" stroke-width="0.7"/>
<circle cx="566.2" cy="495.7" r="1.85" fill="#0a0a0a"/>
<circle cx="568.7" cy="493.7" r="1.85" fill="#0a0a0a"/>
<circle cx="571.1" cy="491.6" r="1.3" fill="#fff" stroke="#8a8a8a" stroke-width="0.7"/>
<circle cx="573.5" cy="489.6" r="1.3" fill="#fff" stroke="#8a8a8a" stroke-width="0.7"/>
<circle cx="576.0" cy="487.7" r="1.85" fill="#0a0a0a"/>
<circle cx="578.4" cy="486.1" r="1.85" fill="#0a0a0a"/>
<circle cx="580.9" cy="484.5" r="1.3" fill="#fff" stroke="#8a8a8a" stroke-width="0.7"/>
<circle cx="583.3" cy="483.3" r="1.3" fill="#fff" stroke="#8a8a8a" stroke-width="0.7"/>
<circle cx="585.7" cy="482.1" r="1.85" fill="#0a0a0a"/>
<circle cx="588.2" cy="480.7" r="1.85" fill="#0a0a0a"/>
<circle cx="590.6" cy="479.0" r="1.3" fill="#fff" stroke="#8a8a8a" stroke-width="0.7"/>
<circle cx="593.1" cy="477.4" r="1.3" fill="#fff" stroke="#8a8a8a" stroke-width="0.7"/>
<circle cx="595.5" cy="475.9" r="1.85" fill="#0a0a0a"/>
<circle cx="597.9" cy="474.1" r="1.85" fill="#0a0a0a"/>
<circle cx="600.4" cy="471.9" r="1.3" fill="#fff" stroke="#8a8a8a" stroke-width="0.7"/>
<circle cx="602.8" cy="470.2" r="1.3" fill="#fff" stroke="#8a8a8a" stroke-width="0.7"/>
<circle cx="605.2" cy="468.6" r="1.85" fill="#0a0a0a"/>
<circle cx="607.7" cy="467.0" r="1.85" fill="#0a0a0a"/>
<circle cx="610.1" cy="465.3" r="1.3" fill="#fff" stroke="#8a8a8a" stroke-width="0.7"/>
<circle cx="612.6" cy="463.7" r="1.3" fill="#fff" stroke="#8a8a8a" stroke-width="0.7"/>
<circle cx="615.0" cy="462.5" r="1.85" fill="#0a0a0a"/>
<circle cx="617.4" cy="461.3" r="1.85" fill="#0a0a0a"/>
<circle cx="619.9" cy="459.9" r="1.3" fill="#fff" stroke="#8a8a8a" stroke-width="0.7"/>
<circle cx="622.3" cy="458.2" r="1.3" fill="#fff" stroke="#8a8a8a" stroke-width="0.7"/>
<circle cx="624.7" cy="456.6" r="1.85" fill="#0a0a0a"/>
<circle cx="627.2" cy="454.7" r="1.85" fill="#0a0a0a"/>
<circle cx="629.6" cy="452.8" r="1.3" fill="#fff" stroke="#8a8a8a" stroke-width="0.7"/>
<circle cx="632.1" cy="451.4" r="1.3" fill="#fff" stroke="#8a8a8a" stroke-width="0.7"/>
<circle cx="634.5" cy="450.2" r="1.85" fill="#0a0a0a"/>
<circle cx="636.9" cy="449.2" r="1.85" fill="#0a0a0a"/>
<circle cx="639.4" cy="448.3" r="1.3" fill="#fff" stroke="#8a8a8a" stroke-width="0.7"/>
<circle cx="641.8" cy="447.5" r="1.3" fill="#fff" stroke="#8a8a8a" stroke-width="0.7"/>
<circle cx="644.2" cy="445.1" r="1.85" fill="#0a0a0a"/>
<path d="M461.4 628.1 L466.4 619.5 L472.0 609.6 L477.7 598.2 L483.4 586.9 L489.1 576.2 L494.8 566.3 L500.5 557.0 L504.0 551.4 L507.6 546.4" fill="none" stroke="#4c4c4c" stroke-width="3.3" stroke-linejoin="round"/>
<circle cx="461.4" cy="628.1" r="1.1" fill="#e2e2e2" stroke="none" stroke-width="0"/>
<circle cx="463.8" cy="623.9" r="1.1" fill="#e2e2e2" stroke="none" stroke-width="0"/>
<circle cx="466.3" cy="619.7" r="1.1" fill="#e2e2e2" stroke="none" stroke-width="0"/>
<circle cx="468.7" cy="615.4" r="1.1" fill="#e2e2e2" stroke="none" stroke-width="0"/>
<circle cx="471.2" cy="611.1" r="1.1" fill="#e2e2e2" stroke="none" stroke-width="0"/>
<circle cx="473.6" cy="606.4" r="1.1" fill="#e2e2e2" stroke="none" stroke-width="0"/>
<circle cx="476.0" cy="601.5" r="1.1" fill="#e2e2e2" stroke="none" stroke-width="0"/>
<circle cx="478.5" cy="596.7" r="1.1" fill="#e2e2e2" stroke="none" stroke-width="0"/>
<circle cx="480.9" cy="591.8" r="1.1" fill="#e2e2e2" stroke="none" stroke-width="0"/>
<circle cx="483.3" cy="587.0" r="1.1" fill="#e2e2e2" stroke="none" stroke-width="0"/>
<circle cx="485.8" cy="582.4" r="1.1" fill="#e2e2e2" stroke="none" stroke-width="0"/>
<circle cx="488.2" cy="577.9" r="1.1" fill="#e2e2e2" stroke="none" stroke-width="0"/>
<circle cx="490.7" cy="573.5" r="1.1" fill="#e2e2e2" stroke="none" stroke-width="0"/>
<circle cx="493.1" cy="569.3" r="1.1" fill="#e2e2e2" stroke="none" stroke-width="0"/>
<circle cx="495.5" cy="565.1" r="1.1" fill="#e2e2e2" stroke="none" stroke-width="0"/>
<circle cx="498.0" cy="561.1" r="1.1" fill="#e2e2e2" stroke="none" stroke-width="0"/>
<circle cx="500.4" cy="557.2" r="1.1" fill="#e2e2e2" stroke="none" stroke-width="0"/>
<circle cx="502.8" cy="553.2" r="1.1" fill="#e2e2e2" stroke="none" stroke-width="0"/>
<circle cx="505.3" cy="549.6" r="1.1" fill="#e2e2e2" stroke="none" stroke-width="0"/>
<text x="447.30" y="404.60" font-size="11" text-anchor="end" fill="#0a0a0a" stroke="#0a0a0a" stroke-width="0.2">3,0</text>
<text x="447.30" y="426.97" font-size="11" text-anchor="end" fill="#0a0a0a" stroke="#0a0a0a" stroke-width="0.2">2,7</text>
<text x="447.30" y="449.34" font-size="11" text-anchor="end" fill="#0a0a0a" stroke="#0a0a0a" stroke-width="0.2">2,4</text>
<text x="447.30" y="471.71" font-size="11" text-anchor="end" fill="#0a0a0a" stroke="#0a0a0a" stroke-width="0.2">2,1</text>
<text x="447.30" y="494.08" font-size="11" text-anchor="end" fill="#0a0a0a" stroke="#0a0a0a" stroke-width="0.2">1,8</text>
<text x="447.30" y="516.45" font-size="11" text-anchor="end" fill="#0a0a0a" stroke="#0a0a0a" stroke-width="0.2">1,5</text>
<text x="447.30" y="538.82" font-size="11" text-anchor="end" fill="#0a0a0a" stroke="#0a0a0a" stroke-width="0.2">1,2</text>
<text x="447.30" y="561.19" font-size="11" text-anchor="end" fill="#0a0a0a" stroke="#0a0a0a" stroke-width="0.2">0,9</text>
<text x="447.30" y="583.56" font-size="11" text-anchor="end" fill="#0a0a0a" stroke="#0a0a0a" stroke-width="0.2">0,6</text>
<text x="447.30" y="605.93" font-size="11" text-anchor="end" fill="#0a0a0a" stroke="#0a0a0a" stroke-width="0.2">0,3</text>
<text x="440.60" y="631.90" font-size="11" text-anchor="middle" fill="#0a0a0a" stroke="#0a0a0a" stroke-width="0.2">0</text>
<text x="461.00" y="652.00" font-size="11" text-anchor="middle" fill="#0a0a0a" stroke="#0a0a0a" stroke-width="0.2">0</text>
<text x="507.70" y="652.00" font-size="11" text-anchor="middle" fill="#0a0a0a" stroke="#0a0a0a" stroke-width="0.2">19</text>
<text x="553.60" y="652.00" font-size="11" text-anchor="middle" fill="#0a0a0a" stroke="#0a0a0a" stroke-width="0.2">38</text>
<text x="600.30" y="652.00" font-size="11" text-anchor="middle" fill="#0a0a0a" stroke="#0a0a0a" stroke-width="0.2">57</text>
<text x="648.00" y="652.00" font-size="11" text-anchor="middle" fill="#0a0a0a" stroke="#0a0a0a" stroke-width="0.2">76</text>
<text x="561.80" y="672.80" font-size="14.3" text-anchor="middle" textLength="206.0" lengthAdjust="spacingAndGlyphs" fill="#0a0a0a" stroke="#0a0a0a" stroke-width="0.24">Время культивирования (часы)</text>
<text transform="translate(416.20,515.90) rotate(-90)" font-size="14.0" text-anchor="middle" textLength="121.3" lengthAdjust="spacingAndGlyphs" fill="#0a0a0a" stroke="#0a0a0a" stroke-width="0.24">Клеточный индекс</text>
<text x="653.50" y="424.60" font-size="13.8" textLength="61.6" lengthAdjust="spacingAndGlyphs" fill="#0a0a0a" stroke="#0a0a0a" stroke-width="0.24" xml:space="preserve">Контроль</text>
<text x="654.60" y="448.40" font-size="13.8" textLength="87.6" lengthAdjust="spacingAndGlyphs" fill="#0a0a0a" stroke="#0a0a0a" stroke-width="0.24" xml:space="preserve">СУ  1 мкмоль</text>
<text x="653.50" y="485.00" font-size="13.8" textLength="92.3" lengthAdjust="spacingAndGlyphs" fill="#0a0a0a" stroke="#0a0a0a" stroke-width="0.24" xml:space="preserve">Д  0,25 мкг/мл</text>
<text x="653.50" y="513.00" font-size="13.8" textLength="44.5" lengthAdjust="spacingAndGlyphs" fill="#0a0a0a" stroke="#0a0a0a" stroke-width="0.24" xml:space="preserve">СУ + Д</text>
</svg></body></html>
